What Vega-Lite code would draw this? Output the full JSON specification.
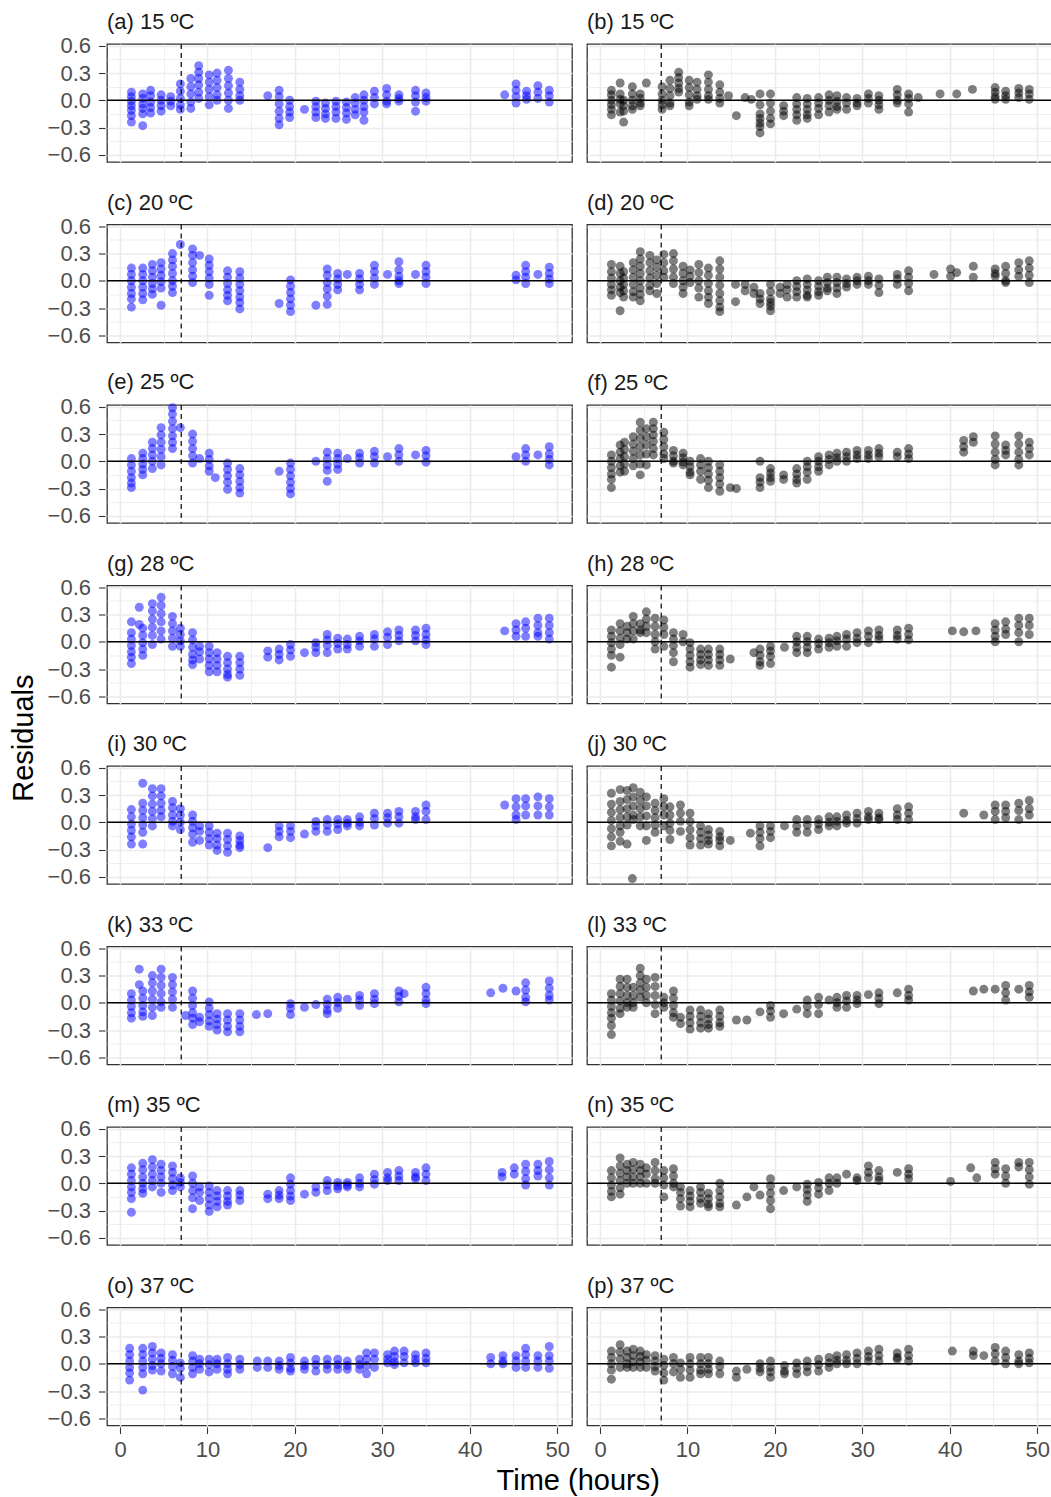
{
"$schema":"https://vega.github.io/schema/vega-lite/v6.json",
"background":"white",
"padding":{"left":10,"top":10,"right":0,"bottom":0},
"config":{"font":"Liberation Sans","view":{"stroke":"#333333","strokeWidth":1.3},"concat":{"spacing":0}},
"title":{"text":"Residuals","orient":"left","anchor":"middle","fontSize":29,"fontWeight":"normal","color":"black","offset":8,"dx":15},
"vconcat":[{
"title":{"text":"Time (hours)","orient":"bottom","anchor":"middle","fontSize":29,"fontWeight":"normal","color":"black","offset":6,"dx":28},
"data":{"values":[
{"p":"a","t":1.3,"r":0.09},{"p":"a","t":1.3,"r":0.04},{"p":"a","t":1.3,"r":-0.01},{"p":"a","t":1.3,"r":-0.06},{"p":"a","t":1.3,"r":-0.11},{"p":"a","t":1.3,"r":-0.17},{"p":"a","t":1.3,"r":-0.24},
{"p":"a","t":2.6,"r":0.07},{"p":"a","t":2.6,"r":0.02},{"p":"a","t":2.6,"r":-0.04},{"p":"a","t":2.6,"r":-0.09},{"p":"a","t":2.6,"r":-0.15},{"p":"a","t":2.6,"r":-0.28},
{"p":"a","t":3.5,"r":0.11},{"p":"a","t":3.5,"r":0.05},{"p":"a","t":3.5,"r":-0.02},{"p":"a","t":3.5,"r":-0.08},{"p":"a","t":3.5,"r":-0.14},
{"p":"a","t":4.7,"r":0.06},{"p":"a","t":4.7,"r":0.0},{"p":"a","t":4.7,"r":-0.06},{"p":"a","t":4.7,"r":-0.12},
{"p":"a","t":5.8,"r":0.04},{"p":"a","t":5.8,"r":-0.01},{"p":"a","t":5.8,"r":-0.06},
{"p":"a","t":6.9,"r":0.18},{"p":"a","t":6.9,"r":0.1},{"p":"a","t":6.9,"r":0.02},{"p":"a","t":6.9,"r":-0.05},{"p":"a","t":6.9,"r":-0.1},
{"p":"a","t":8.1,"r":0.24},{"p":"a","t":8.1,"r":0.15},{"p":"a","t":8.1,"r":0.07},{"p":"a","t":8.1,"r":-0.02},{"p":"a","t":8.1,"r":-0.09},
{"p":"a","t":9.0,"r":0.38},{"p":"a","t":9.0,"r":0.31},{"p":"a","t":9.0,"r":0.24},{"p":"a","t":9.0,"r":0.17},{"p":"a","t":9.0,"r":0.09},{"p":"a","t":9.0,"r":0.02},
{"p":"a","t":10.2,"r":0.28},{"p":"a","t":10.2,"r":0.2},{"p":"a","t":10.2,"r":0.12},{"p":"a","t":10.2,"r":0.04},{"p":"a","t":10.2,"r":-0.05},
{"p":"a","t":11.1,"r":0.3},{"p":"a","t":11.1,"r":0.22},{"p":"a","t":11.1,"r":0.14},{"p":"a","t":11.1,"r":0.06},{"p":"a","t":11.1,"r":0.0},
{"p":"a","t":12.4,"r":0.33},{"p":"a","t":12.4,"r":0.24},{"p":"a","t":12.4,"r":0.16},{"p":"a","t":12.4,"r":0.08},{"p":"a","t":12.4,"r":0.0},{"p":"a","t":12.4,"r":-0.09},
{"p":"a","t":13.7,"r":0.2},{"p":"a","t":13.7,"r":0.12},{"p":"a","t":13.7,"r":0.05},{"p":"a","t":13.7,"r":0.0},
{"p":"a","t":16.9,"r":0.05},
{"p":"a","t":18.2,"r":0.11},{"p":"a","t":18.2,"r":0.04},{"p":"a","t":18.2,"r":-0.04},{"p":"a","t":18.2,"r":-0.12},{"p":"a","t":18.2,"r":-0.2},{"p":"a","t":18.2,"r":-0.27},
{"p":"a","t":19.4,"r":0.0},{"p":"a","t":19.4,"r":-0.07},{"p":"a","t":19.4,"r":-0.13},{"p":"a","t":19.4,"r":-0.19},
{"p":"a","t":21.1,"r":-0.1},
{"p":"a","t":22.4,"r":-0.01},{"p":"a","t":22.4,"r":-0.07},{"p":"a","t":22.4,"r":-0.13},{"p":"a","t":22.4,"r":-0.19},
{"p":"a","t":23.5,"r":-0.03},{"p":"a","t":23.5,"r":-0.09},{"p":"a","t":23.5,"r":-0.15},{"p":"a","t":23.5,"r":-0.2},
{"p":"a","t":24.7,"r":-0.01},{"p":"a","t":24.7,"r":-0.07},{"p":"a","t":24.7,"r":-0.13},{"p":"a","t":24.7,"r":-0.2},
{"p":"a","t":25.9,"r":-0.02},{"p":"a","t":25.9,"r":-0.08},{"p":"a","t":25.9,"r":-0.14},{"p":"a","t":25.9,"r":-0.21},
{"p":"a","t":26.9,"r":0.03},{"p":"a","t":26.9,"r":-0.03},{"p":"a","t":26.9,"r":-0.1},{"p":"a","t":26.9,"r":-0.16},
{"p":"a","t":27.9,"r":0.06},{"p":"a","t":27.9,"r":0.0},{"p":"a","t":27.9,"r":-0.07},{"p":"a","t":27.9,"r":-0.13},{"p":"a","t":27.9,"r":-0.22},
{"p":"a","t":29.1,"r":0.1},{"p":"a","t":29.1,"r":0.03},{"p":"a","t":29.1,"r":-0.04},
{"p":"a","t":30.5,"r":0.13},{"p":"a","t":30.5,"r":0.06},{"p":"a","t":30.5,"r":-0.01},{"p":"a","t":30.5,"r":-0.04},
{"p":"a","t":31.9,"r":0.06},{"p":"a","t":31.9,"r":0.02},{"p":"a","t":31.9,"r":-0.01},
{"p":"a","t":33.8,"r":0.11},{"p":"a","t":33.8,"r":0.05},{"p":"a","t":33.8,"r":-0.02},{"p":"a","t":33.8,"r":-0.12},
{"p":"a","t":35.0,"r":0.08},{"p":"a","t":35.0,"r":0.03},{"p":"a","t":35.0,"r":-0.01},
{"p":"a","t":44.0,"r":0.06},
{"p":"a","t":45.3,"r":0.18},{"p":"a","t":45.3,"r":0.11},{"p":"a","t":45.3,"r":0.04},{"p":"a","t":45.3,"r":-0.03},
{"p":"a","t":46.5,"r":0.1},{"p":"a","t":46.5,"r":0.05},{"p":"a","t":46.5,"r":0.01},
{"p":"a","t":47.8,"r":0.16},{"p":"a","t":47.8,"r":0.09},{"p":"a","t":47.8,"r":0.02},
{"p":"a","t":49.1,"r":0.11},{"p":"a","t":49.1,"r":0.05},{"p":"a","t":49.1,"r":-0.02},
{"p":"b","t":1.3,"r":0.11},{"p":"b","t":1.3,"r":0.06},{"p":"b","t":1.3,"r":0.0},{"p":"b","t":1.3,"r":-0.05},{"p":"b","t":1.3,"r":-0.1},{"p":"b","t":1.3,"r":-0.16},
{"p":"b","t":2.3,"r":0.19},{"p":"b","t":2.3,"r":0.07},{"p":"b","t":2.3,"r":0.01},{"p":"b","t":2.3,"r":-0.04},{"p":"b","t":2.3,"r":-0.13},
{"p":"b","t":2.7,"r":0.0},{"p":"b","t":2.7,"r":-0.06},{"p":"b","t":2.7,"r":-0.12},{"p":"b","t":2.7,"r":-0.24},
{"p":"b","t":3.7,"r":0.15},{"p":"b","t":3.7,"r":0.07},{"p":"b","t":3.7,"r":0.0},{"p":"b","t":3.7,"r":-0.06},{"p":"b","t":3.7,"r":-0.1},
{"p":"b","t":4.6,"r":0.07},{"p":"b","t":4.6,"r":0.02},{"p":"b","t":4.6,"r":-0.03},{"p":"b","t":4.6,"r":-0.06},
{"p":"b","t":5.3,"r":0.19},
{"p":"b","t":7.1,"r":0.15},{"p":"b","t":7.1,"r":0.07},{"p":"b","t":7.1,"r":0.0},{"p":"b","t":7.1,"r":-0.05},{"p":"b","t":7.1,"r":-0.1},
{"p":"b","t":8.0,"r":0.22},{"p":"b","t":8.0,"r":0.13},{"p":"b","t":8.0,"r":0.05},{"p":"b","t":8.0,"r":-0.03},{"p":"b","t":8.0,"r":-0.06},
{"p":"b","t":9.0,"r":0.31},{"p":"b","t":9.0,"r":0.25},{"p":"b","t":9.0,"r":0.19},{"p":"b","t":9.0,"r":0.13},{"p":"b","t":9.0,"r":0.09},
{"p":"b","t":10.2,"r":0.22},{"p":"b","t":10.2,"r":0.14},{"p":"b","t":10.2,"r":0.06},{"p":"b","t":10.2,"r":-0.02},{"p":"b","t":10.2,"r":-0.06},
{"p":"b","t":11.1,"r":0.2},{"p":"b","t":11.1,"r":0.12},{"p":"b","t":11.1,"r":0.05},{"p":"b","t":11.1,"r":0.01},
{"p":"b","t":12.4,"r":0.28},{"p":"b","t":12.4,"r":0.2},{"p":"b","t":12.4,"r":0.12},{"p":"b","t":12.4,"r":0.05},{"p":"b","t":12.4,"r":0.01},
{"p":"b","t":13.7,"r":0.17},{"p":"b","t":13.7,"r":0.09},{"p":"b","t":13.7,"r":0.02},{"p":"b","t":13.7,"r":-0.03},
{"p":"b","t":14.7,"r":0.05},{"p":"b","t":15.6,"r":-0.17},{"p":"b","t":16.6,"r":0.03},{"p":"b","t":17.3,"r":0.01},
{"p":"b","t":18.3,"r":0.07},{"p":"b","t":18.3,"r":-0.05},{"p":"b","t":18.3,"r":-0.15},{"p":"b","t":18.3,"r":-0.2},{"p":"b","t":18.3,"r":-0.25},{"p":"b","t":18.3,"r":-0.29},{"p":"b","t":18.3,"r":-0.36},
{"p":"b","t":19.5,"r":0.07},{"p":"b","t":19.5,"r":-0.03},{"p":"b","t":19.5,"r":-0.12},{"p":"b","t":19.5,"r":-0.2},{"p":"b","t":19.5,"r":-0.26},
{"p":"b","t":21.0,"r":-0.06},{"p":"b","t":21.0,"r":-0.12},{"p":"b","t":21.0,"r":-0.17},
{"p":"b","t":22.5,"r":0.03},{"p":"b","t":22.5,"r":-0.04},{"p":"b","t":22.5,"r":-0.1},{"p":"b","t":22.5,"r":-0.16},{"p":"b","t":22.5,"r":-0.22},
{"p":"b","t":23.7,"r":0.02},{"p":"b","t":23.7,"r":-0.04},{"p":"b","t":23.7,"r":-0.1},{"p":"b","t":23.7,"r":-0.16},{"p":"b","t":23.7,"r":-0.2},
{"p":"b","t":25.0,"r":0.03},{"p":"b","t":25.0,"r":-0.03},{"p":"b","t":25.0,"r":-0.09},{"p":"b","t":25.0,"r":-0.16},
{"p":"b","t":26.2,"r":0.06},{"p":"b","t":26.2,"r":0.0},{"p":"b","t":26.2,"r":-0.06},{"p":"b","t":26.2,"r":-0.13},
{"p":"b","t":27.1,"r":0.05},{"p":"b","t":27.1,"r":-0.01},{"p":"b","t":27.1,"r":-0.07},{"p":"b","t":27.1,"r":-0.1},
{"p":"b","t":28.2,"r":0.03},{"p":"b","t":28.2,"r":-0.03},{"p":"b","t":28.2,"r":-0.1},
{"p":"b","t":29.4,"r":0.02},{"p":"b","t":29.4,"r":-0.03},{"p":"b","t":29.4,"r":-0.06},
{"p":"b","t":30.7,"r":0.07},{"p":"b","t":30.7,"r":0.02},{"p":"b","t":30.7,"r":-0.03},
{"p":"b","t":31.9,"r":0.05},{"p":"b","t":31.9,"r":0.0},{"p":"b","t":31.9,"r":-0.05},{"p":"b","t":31.9,"r":-0.1},
{"p":"b","t":34.0,"r":0.12},{"p":"b","t":34.0,"r":0.06},{"p":"b","t":34.0,"r":0.0},{"p":"b","t":34.0,"r":-0.03},
{"p":"b","t":35.3,"r":0.07},{"p":"b","t":35.3,"r":0.02},{"p":"b","t":35.3,"r":-0.04},{"p":"b","t":35.3,"r":-0.13},
{"p":"b","t":36.4,"r":0.03},{"p":"b","t":38.9,"r":0.07},{"p":"b","t":40.8,"r":0.07},{"p":"b","t":42.6,"r":0.12},
{"p":"b","t":45.2,"r":0.14},{"p":"b","t":45.2,"r":0.09},{"p":"b","t":45.2,"r":0.04},{"p":"b","t":45.2,"r":0.01},
{"p":"b","t":46.4,"r":0.1},{"p":"b","t":46.4,"r":0.05},{"p":"b","t":46.4,"r":0.01},
{"p":"b","t":47.9,"r":0.13},{"p":"b","t":47.9,"r":0.08},{"p":"b","t":47.9,"r":0.03},
{"p":"b","t":49.1,"r":0.12},{"p":"b","t":49.1,"r":0.07},{"p":"b","t":49.1,"r":0.01},
{"p":"c","t":1.3,"r":0.14},{"p":"c","t":1.3,"r":0.07},{"p":"c","t":1.3,"r":0.0},{"p":"c","t":1.3,"r":-0.07},{"p":"c","t":1.3,"r":-0.14},{"p":"c","t":1.3,"r":-0.2},{"p":"c","t":1.3,"r":-0.29},
{"p":"c","t":2.6,"r":0.14},{"p":"c","t":2.6,"r":0.07},{"p":"c","t":2.6,"r":0.0},{"p":"c","t":2.6,"r":-0.07},{"p":"c","t":2.6,"r":-0.14},{"p":"c","t":2.6,"r":-0.21},
{"p":"c","t":3.7,"r":0.18},{"p":"c","t":3.7,"r":0.11},{"p":"c","t":3.7,"r":0.04},{"p":"c","t":3.7,"r":-0.03},{"p":"c","t":3.7,"r":-0.09},{"p":"c","t":3.7,"r":-0.15},
{"p":"c","t":4.7,"r":0.2},{"p":"c","t":4.7,"r":0.13},{"p":"c","t":4.7,"r":0.06},{"p":"c","t":4.7,"r":-0.01},{"p":"c","t":4.7,"r":-0.08},{"p":"c","t":4.7,"r":-0.27},
{"p":"c","t":6.0,"r":0.3},{"p":"c","t":6.0,"r":0.23},{"p":"c","t":6.0,"r":0.16},{"p":"c","t":6.0,"r":0.08},{"p":"c","t":6.0,"r":0.0},{"p":"c","t":6.0,"r":-0.06},{"p":"c","t":6.0,"r":-0.13},
{"p":"c","t":6.9,"r":0.4},
{"p":"c","t":8.3,"r":0.35},{"p":"c","t":8.3,"r":0.28},{"p":"c","t":8.3,"r":0.2},{"p":"c","t":8.3,"r":0.12},{"p":"c","t":8.3,"r":0.05},{"p":"c","t":8.3,"r":-0.02},
{"p":"c","t":9.1,"r":0.28},
{"p":"c","t":10.2,"r":0.24},{"p":"c","t":10.2,"r":0.17},{"p":"c","t":10.2,"r":0.1},{"p":"c","t":10.2,"r":0.03},{"p":"c","t":10.2,"r":-0.04},{"p":"c","t":10.2,"r":-0.16},
{"p":"c","t":12.3,"r":0.11},{"p":"c","t":12.3,"r":0.04},{"p":"c","t":12.3,"r":-0.03},{"p":"c","t":12.3,"r":-0.1},{"p":"c","t":12.3,"r":-0.16},{"p":"c","t":12.3,"r":-0.22},
{"p":"c","t":13.7,"r":0.1},{"p":"c","t":13.7,"r":0.03},{"p":"c","t":13.7,"r":-0.04},{"p":"c","t":13.7,"r":-0.11},{"p":"c","t":13.7,"r":-0.18},{"p":"c","t":13.7,"r":-0.24},{"p":"c","t":13.7,"r":-0.31},
{"p":"c","t":18.2,"r":-0.25},
{"p":"c","t":19.5,"r":0.01},{"p":"c","t":19.5,"r":-0.06},{"p":"c","t":19.5,"r":-0.13},{"p":"c","t":19.5,"r":-0.2},{"p":"c","t":19.5,"r":-0.27},{"p":"c","t":19.5,"r":-0.34},
{"p":"c","t":22.4,"r":-0.27},
{"p":"c","t":23.7,"r":0.13},{"p":"c","t":23.7,"r":0.06},{"p":"c","t":23.7,"r":-0.02},{"p":"c","t":23.7,"r":-0.09},{"p":"c","t":23.7,"r":-0.17},{"p":"c","t":23.7,"r":-0.26},
{"p":"c","t":24.9,"r":0.08},{"p":"c","t":24.9,"r":0.02},{"p":"c","t":24.9,"r":-0.04},{"p":"c","t":24.9,"r":-0.1},
{"p":"c","t":26.0,"r":0.07},
{"p":"c","t":27.4,"r":0.08},{"p":"c","t":27.4,"r":0.02},{"p":"c","t":27.4,"r":-0.04},{"p":"c","t":27.4,"r":-0.1},
{"p":"c","t":29.1,"r":0.17},{"p":"c","t":29.1,"r":0.1},{"p":"c","t":29.1,"r":0.03},{"p":"c","t":29.1,"r":-0.04},
{"p":"c","t":30.6,"r":0.07},
{"p":"c","t":31.9,"r":0.21},{"p":"c","t":31.9,"r":0.12},{"p":"c","t":31.9,"r":0.05},{"p":"c","t":31.9,"r":0.0},{"p":"c","t":31.9,"r":-0.03},
{"p":"c","t":33.8,"r":0.07},
{"p":"c","t":35.0,"r":0.17},{"p":"c","t":35.0,"r":0.1},{"p":"c","t":35.0,"r":0.04},{"p":"c","t":35.0,"r":-0.03},
{"p":"c","t":45.3,"r":0.06},{"p":"c","t":45.3,"r":0.01},
{"p":"c","t":46.4,"r":0.17},{"p":"c","t":46.4,"r":0.1},{"p":"c","t":46.4,"r":0.04},{"p":"c","t":46.4,"r":-0.03},
{"p":"c","t":47.8,"r":0.07},
{"p":"c","t":49.1,"r":0.15},{"p":"c","t":49.1,"r":0.08},{"p":"c","t":49.1,"r":0.02},{"p":"c","t":49.1,"r":-0.03},
{"p":"d","t":1.3,"r":0.18},{"p":"d","t":1.3,"r":0.1},{"p":"d","t":1.3,"r":0.03},{"p":"d","t":1.3,"r":-0.04},{"p":"d","t":1.3,"r":-0.1},{"p":"d","t":1.3,"r":-0.16},
{"p":"d","t":2.3,"r":0.16},{"p":"d","t":2.3,"r":0.08},{"p":"d","t":2.3,"r":0.0},{"p":"d","t":2.3,"r":-0.07},{"p":"d","t":2.3,"r":-0.13},{"p":"d","t":2.3,"r":-0.33},
{"p":"d","t":2.7,"r":0.1},{"p":"d","t":2.7,"r":0.03},{"p":"d","t":2.7,"r":-0.04},{"p":"d","t":2.7,"r":-0.11},{"p":"d","t":2.7,"r":-0.18},
{"p":"d","t":3.8,"r":0.2},{"p":"d","t":3.8,"r":0.12},{"p":"d","t":3.8,"r":0.04},{"p":"d","t":3.8,"r":-0.04},{"p":"d","t":3.8,"r":-0.12},{"p":"d","t":3.8,"r":-0.18},
{"p":"d","t":4.6,"r":0.32},{"p":"d","t":4.6,"r":0.24},{"p":"d","t":4.6,"r":0.16},{"p":"d","t":4.6,"r":0.08},{"p":"d","t":4.6,"r":0.0},{"p":"d","t":4.6,"r":-0.08},{"p":"d","t":4.6,"r":-0.15},{"p":"d","t":4.6,"r":-0.22},
{"p":"d","t":5.7,"r":0.28},{"p":"d","t":5.7,"r":0.2},{"p":"d","t":5.7,"r":0.11},{"p":"d","t":5.7,"r":0.03},{"p":"d","t":5.7,"r":-0.05},{"p":"d","t":5.7,"r":-0.11},
{"p":"d","t":6.5,"r":0.23},{"p":"d","t":6.5,"r":0.15},{"p":"d","t":6.5,"r":0.06},{"p":"d","t":6.5,"r":-0.03},{"p":"d","t":6.5,"r":-0.14},
{"p":"d","t":7.3,"r":0.29},{"p":"d","t":7.3,"r":0.2},{"p":"d","t":7.3,"r":0.11},{"p":"d","t":7.3,"r":0.04},
{"p":"d","t":8.4,"r":0.3},{"p":"d","t":8.4,"r":0.22},{"p":"d","t":8.4,"r":0.13},{"p":"d","t":8.4,"r":0.04},{"p":"d","t":8.4,"r":-0.03},
{"p":"d","t":9.5,"r":0.16},{"p":"d","t":9.5,"r":0.08},{"p":"d","t":9.5,"r":0.0},{"p":"d","t":9.5,"r":-0.07},{"p":"d","t":9.5,"r":-0.14},
{"p":"d","t":10.3,"r":0.12},{"p":"d","t":10.3,"r":0.05},{"p":"d","t":10.3,"r":-0.02},
{"p":"d","t":11.3,"r":0.18},{"p":"d","t":11.3,"r":0.09},{"p":"d","t":11.3,"r":0.0},{"p":"d","t":11.3,"r":-0.08},{"p":"d","t":11.3,"r":-0.18},
{"p":"d","t":12.4,"r":0.14},{"p":"d","t":12.4,"r":0.06},{"p":"d","t":12.4,"r":-0.03},{"p":"d","t":12.4,"r":-0.11},{"p":"d","t":12.4,"r":-0.18},{"p":"d","t":12.4,"r":-0.25},
{"p":"d","t":13.7,"r":0.22},{"p":"d","t":13.7,"r":0.13},{"p":"d","t":13.7,"r":0.04},{"p":"d","t":13.7,"r":-0.05},{"p":"d","t":13.7,"r":-0.14},{"p":"d","t":13.7,"r":-0.22},{"p":"d","t":13.7,"r":-0.29},{"p":"d","t":13.7,"r":-0.34},
{"p":"d","t":15.5,"r":-0.04},{"p":"d","t":15.5,"r":-0.23},
{"p":"d","t":16.6,"r":-0.04},{"p":"d","t":16.6,"r":-0.11},
{"p":"d","t":17.6,"r":-0.07},{"p":"d","t":17.6,"r":-0.14},
{"p":"d","t":18.3,"r":-0.14},{"p":"d","t":18.3,"r":-0.2},{"p":"d","t":18.3,"r":-0.25},
{"p":"d","t":19.5,"r":-0.04},{"p":"d","t":19.5,"r":-0.12},{"p":"d","t":19.5,"r":-0.2},{"p":"d","t":19.5,"r":-0.24},{"p":"d","t":19.5,"r":-0.28},{"p":"d","t":19.5,"r":-0.33},
{"p":"d","t":20.6,"r":-0.07},{"p":"d","t":20.6,"r":-0.14},
{"p":"d","t":21.4,"r":-0.04},{"p":"d","t":21.4,"r":-0.1},{"p":"d","t":21.4,"r":-0.18},
{"p":"d","t":22.5,"r":0.0},{"p":"d","t":22.5,"r":-0.06},{"p":"d","t":22.5,"r":-0.12},{"p":"d","t":22.5,"r":-0.18},
{"p":"d","t":23.7,"r":0.02},{"p":"d","t":23.7,"r":-0.04},{"p":"d","t":23.7,"r":-0.1},{"p":"d","t":23.7,"r":-0.16},{"p":"d","t":23.7,"r":-0.18},
{"p":"d","t":25.0,"r":0.0},{"p":"d","t":25.0,"r":-0.06},{"p":"d","t":25.0,"r":-0.12},{"p":"d","t":25.0,"r":-0.16},
{"p":"d","t":26.0,"r":0.04},{"p":"d","t":26.0,"r":-0.02},{"p":"d","t":26.0,"r":-0.08},{"p":"d","t":26.0,"r":-0.11},
{"p":"d","t":27.1,"r":0.04},{"p":"d","t":27.1,"r":-0.02},{"p":"d","t":27.1,"r":-0.08},{"p":"d","t":27.1,"r":-0.14},
{"p":"d","t":28.2,"r":0.02},{"p":"d","t":28.2,"r":-0.03},{"p":"d","t":28.2,"r":-0.07},
{"p":"d","t":29.4,"r":0.04},{"p":"d","t":29.4,"r":0.0},{"p":"d","t":29.4,"r":-0.04},
{"p":"d","t":30.7,"r":0.05},{"p":"d","t":30.7,"r":0.0},{"p":"d","t":30.7,"r":-0.04},
{"p":"d","t":31.9,"r":0.02},{"p":"d","t":31.9,"r":-0.05},{"p":"d","t":31.9,"r":-0.13},
{"p":"d","t":34.0,"r":0.07},{"p":"d","t":34.0,"r":0.02},{"p":"d","t":34.0,"r":-0.04},
{"p":"d","t":35.3,"r":0.11},{"p":"d","t":35.3,"r":0.04},{"p":"d","t":35.3,"r":-0.03},{"p":"d","t":35.3,"r":-0.11},
{"p":"d","t":38.2,"r":0.07},
{"p":"d","t":40.1,"r":0.13},{"p":"d","t":40.1,"r":0.05},
{"p":"d","t":40.8,"r":0.09},
{"p":"d","t":42.7,"r":0.16},{"p":"d","t":42.7,"r":0.04},
{"p":"d","t":45.2,"r":0.13},{"p":"d","t":45.2,"r":0.08},{"p":"d","t":45.2,"r":0.05},
{"p":"d","t":46.4,"r":0.16},{"p":"d","t":46.4,"r":0.08},{"p":"d","t":46.4,"r":0.0},{"p":"d","t":46.4,"r":-0.02},
{"p":"d","t":47.9,"r":0.2},{"p":"d","t":47.9,"r":0.12},{"p":"d","t":47.9,"r":0.05},
{"p":"d","t":49.1,"r":0.22},{"p":"d","t":49.1,"r":0.14},{"p":"d","t":49.1,"r":0.06},{"p":"d","t":49.1,"r":-0.02},
{"p":"e","t":1.3,"r":0.03},{"p":"e","t":1.3,"r":-0.04},{"p":"e","t":1.3,"r":-0.11},{"p":"e","t":1.3,"r":-0.18},{"p":"e","t":1.3,"r":-0.24},{"p":"e","t":1.3,"r":-0.29},
{"p":"e","t":2.6,"r":0.09},{"p":"e","t":2.6,"r":0.03},{"p":"e","t":2.6,"r":-0.03},{"p":"e","t":2.6,"r":-0.09},{"p":"e","t":2.6,"r":-0.15},
{"p":"e","t":3.7,"r":0.21},{"p":"e","t":3.7,"r":0.14},{"p":"e","t":3.7,"r":0.07},{"p":"e","t":3.7,"r":0.0},{"p":"e","t":3.7,"r":-0.08},
{"p":"e","t":4.7,"r":0.37},{"p":"e","t":4.7,"r":0.29},{"p":"e","t":4.7,"r":0.21},{"p":"e","t":4.7,"r":0.13},{"p":"e","t":4.7,"r":0.05},{"p":"e","t":4.7,"r":-0.04},
{"p":"e","t":6.0,"r":0.59},{"p":"e","t":6.0,"r":0.52},{"p":"e","t":6.0,"r":0.44},{"p":"e","t":6.0,"r":0.36},{"p":"e","t":6.0,"r":0.28},{"p":"e","t":6.0,"r":0.21},{"p":"e","t":6.0,"r":0.14},
{"p":"e","t":6.9,"r":0.37},
{"p":"e","t":8.3,"r":0.3},{"p":"e","t":8.3,"r":0.22},{"p":"e","t":8.3,"r":0.14},{"p":"e","t":8.3,"r":0.06},{"p":"e","t":8.3,"r":-0.02},
{"p":"e","t":9.1,"r":0.03},
{"p":"e","t":10.2,"r":0.09},{"p":"e","t":10.2,"r":0.02},{"p":"e","t":10.2,"r":-0.05},{"p":"e","t":10.2,"r":-0.11},
{"p":"e","t":10.9,"r":-0.18},
{"p":"e","t":12.3,"r":-0.02},{"p":"e","t":12.3,"r":-0.09},{"p":"e","t":12.3,"r":-0.16},{"p":"e","t":12.3,"r":-0.23},{"p":"e","t":12.3,"r":-0.31},
{"p":"e","t":13.7,"r":-0.08},{"p":"e","t":13.7,"r":-0.15},{"p":"e","t":13.7,"r":-0.22},{"p":"e","t":13.7,"r":-0.29},{"p":"e","t":13.7,"r":-0.35},
{"p":"e","t":18.2,"r":-0.11},
{"p":"e","t":19.5,"r":-0.02},{"p":"e","t":19.5,"r":-0.09},{"p":"e","t":19.5,"r":-0.16},{"p":"e","t":19.5,"r":-0.23},{"p":"e","t":19.5,"r":-0.3},{"p":"e","t":19.5,"r":-0.36},
{"p":"e","t":22.4,"r":0.0},
{"p":"e","t":23.7,"r":0.1},{"p":"e","t":23.7,"r":0.03},{"p":"e","t":23.7,"r":-0.04},{"p":"e","t":23.7,"r":-0.1},{"p":"e","t":23.7,"r":-0.22},
{"p":"e","t":24.9,"r":0.09},{"p":"e","t":24.9,"r":0.03},{"p":"e","t":24.9,"r":-0.03},{"p":"e","t":24.9,"r":-0.09},
{"p":"e","t":26.0,"r":0.03},
{"p":"e","t":27.4,"r":0.09},{"p":"e","t":27.4,"r":0.04},{"p":"e","t":27.4,"r":-0.02},
{"p":"e","t":29.1,"r":0.11},{"p":"e","t":29.1,"r":0.05},{"p":"e","t":29.1,"r":-0.02},
{"p":"e","t":30.6,"r":0.05},
{"p":"e","t":31.9,"r":0.14},{"p":"e","t":31.9,"r":0.07},{"p":"e","t":31.9,"r":0.0},
{"p":"e","t":33.8,"r":0.07},
{"p":"e","t":35.0,"r":0.12},{"p":"e","t":35.0,"r":0.06},{"p":"e","t":35.0,"r":-0.01},
{"p":"e","t":45.3,"r":0.05},
{"p":"e","t":46.4,"r":0.14},{"p":"e","t":46.4,"r":0.07},{"p":"e","t":46.4,"r":0.0},
{"p":"e","t":47.8,"r":0.07},
{"p":"e","t":49.1,"r":0.16},{"p":"e","t":49.1,"r":0.08},{"p":"e","t":49.1,"r":0.02},{"p":"e","t":49.1,"r":-0.04},
{"p":"f","t":1.3,"r":0.07},{"p":"f","t":1.3,"r":0.0},{"p":"f","t":1.3,"r":-0.07},{"p":"f","t":1.3,"r":-0.14},{"p":"f","t":1.3,"r":-0.2},{"p":"f","t":1.3,"r":-0.29},
{"p":"f","t":2.3,"r":0.18},{"p":"f","t":2.3,"r":0.1},{"p":"f","t":2.3,"r":0.03},{"p":"f","t":2.3,"r":-0.05},{"p":"f","t":2.3,"r":-0.12},
{"p":"f","t":2.8,"r":0.21},{"p":"f","t":2.8,"r":0.13},{"p":"f","t":2.8,"r":0.05},{"p":"f","t":2.8,"r":-0.03},{"p":"f","t":2.8,"r":-0.11},
{"p":"f","t":3.8,"r":0.27},{"p":"f","t":3.8,"r":0.19},{"p":"f","t":3.8,"r":0.11},{"p":"f","t":3.8,"r":0.03},{"p":"f","t":3.8,"r":-0.05},
{"p":"f","t":4.6,"r":0.43},{"p":"f","t":4.6,"r":0.34},{"p":"f","t":4.6,"r":0.25},{"p":"f","t":4.6,"r":0.16},{"p":"f","t":4.6,"r":0.07},{"p":"f","t":4.6,"r":-0.03},{"p":"f","t":4.6,"r":-0.15},
{"p":"f","t":5.3,"r":0.36},{"p":"f","t":5.3,"r":0.27},{"p":"f","t":5.3,"r":0.18},{"p":"f","t":5.3,"r":0.08},{"p":"f","t":5.3,"r":-0.04},
{"p":"f","t":6.1,"r":0.43},{"p":"f","t":6.1,"r":0.36},{"p":"f","t":6.1,"r":0.29},{"p":"f","t":6.1,"r":0.22},{"p":"f","t":6.1,"r":0.14},{"p":"f","t":6.1,"r":0.07},
{"p":"f","t":7.3,"r":0.32},{"p":"f","t":7.3,"r":0.24},{"p":"f","t":7.3,"r":0.16},{"p":"f","t":7.3,"r":0.08},{"p":"f","t":7.3,"r":0.03},
{"p":"f","t":8.4,"r":0.12},{"p":"f","t":8.4,"r":0.06},{"p":"f","t":8.4,"r":0.0},{"p":"f","t":8.4,"r":-0.02},
{"p":"f","t":9.5,"r":0.09},{"p":"f","t":9.5,"r":0.04},{"p":"f","t":9.5,"r":-0.01},{"p":"f","t":9.5,"r":-0.04},
{"p":"f","t":10.3,"r":0.0},{"p":"f","t":10.3,"r":-0.06},{"p":"f","t":10.3,"r":-0.12},{"p":"f","t":10.3,"r":-0.15},
{"p":"f","t":11.5,"r":0.03},{"p":"f","t":11.5,"r":-0.04},{"p":"f","t":11.5,"r":-0.11},{"p":"f","t":11.5,"r":-0.2},
{"p":"f","t":12.4,"r":0.0},{"p":"f","t":12.4,"r":-0.07},{"p":"f","t":12.4,"r":-0.14},{"p":"f","t":12.4,"r":-0.21},{"p":"f","t":12.4,"r":-0.29},
{"p":"f","t":13.7,"r":-0.04},{"p":"f","t":13.7,"r":-0.11},{"p":"f","t":13.7,"r":-0.18},{"p":"f","t":13.7,"r":-0.25},{"p":"f","t":13.7,"r":-0.33},
{"p":"f","t":14.9,"r":-0.29},{"p":"f","t":15.6,"r":-0.3},
{"p":"f","t":18.3,"r":0.0},{"p":"f","t":18.3,"r":-0.18},{"p":"f","t":18.3,"r":-0.23},{"p":"f","t":18.3,"r":-0.29},
{"p":"f","t":19.5,"r":-0.08},{"p":"f","t":19.5,"r":-0.13},{"p":"f","t":19.5,"r":-0.18},{"p":"f","t":19.5,"r":-0.22},
{"p":"f","t":21.0,"r":-0.15},{"p":"f","t":21.0,"r":-0.2},
{"p":"f","t":22.5,"r":-0.08},{"p":"f","t":22.5,"r":-0.14},{"p":"f","t":22.5,"r":-0.2},{"p":"f","t":22.5,"r":-0.24},
{"p":"f","t":23.7,"r":0.0},{"p":"f","t":23.7,"r":-0.06},{"p":"f","t":23.7,"r":-0.12},{"p":"f","t":23.7,"r":-0.2},
{"p":"f","t":25.0,"r":0.05},{"p":"f","t":25.0,"r":0.0},{"p":"f","t":25.0,"r":-0.06},{"p":"f","t":25.0,"r":-0.11},
{"p":"f","t":26.2,"r":0.07},{"p":"f","t":26.2,"r":0.02},{"p":"f","t":26.2,"r":-0.04},
{"p":"f","t":27.1,"r":0.09},{"p":"f","t":27.1,"r":0.04},{"p":"f","t":27.1,"r":0.0},
{"p":"f","t":28.2,"r":0.1},{"p":"f","t":28.2,"r":0.05},{"p":"f","t":28.2,"r":0.0},
{"p":"f","t":29.4,"r":0.12},{"p":"f","t":29.4,"r":0.07},{"p":"f","t":29.4,"r":0.03},
{"p":"f","t":30.7,"r":0.12},{"p":"f","t":30.7,"r":0.07},{"p":"f","t":30.7,"r":0.03},
{"p":"f","t":31.9,"r":0.14},{"p":"f","t":31.9,"r":0.09},{"p":"f","t":31.9,"r":0.05},
{"p":"f","t":34.0,"r":0.1},{"p":"f","t":34.0,"r":0.05},
{"p":"f","t":35.3,"r":0.14},{"p":"f","t":35.3,"r":0.08},{"p":"f","t":35.3,"r":0.03},
{"p":"f","t":41.6,"r":0.23},{"p":"f","t":41.6,"r":0.16},{"p":"f","t":41.6,"r":0.1},
{"p":"f","t":42.7,"r":0.27},{"p":"f","t":42.7,"r":0.21},
{"p":"f","t":45.2,"r":0.28},{"p":"f","t":45.2,"r":0.19},{"p":"f","t":45.2,"r":0.1},{"p":"f","t":45.2,"r":0.02},{"p":"f","t":45.2,"r":-0.04},
{"p":"f","t":46.4,"r":0.18},{"p":"f","t":46.4,"r":0.12},{"p":"f","t":46.4,"r":0.07},
{"p":"f","t":47.9,"r":0.28},{"p":"f","t":47.9,"r":0.19},{"p":"f","t":47.9,"r":0.1},{"p":"f","t":47.9,"r":0.02},{"p":"f","t":47.9,"r":-0.04},
{"p":"f","t":49.1,"r":0.21},{"p":"f","t":49.1,"r":0.14},{"p":"f","t":49.1,"r":0.07},
{"p":"g","t":1.3,"r":0.22},{"p":"g","t":1.3,"r":0.1},{"p":"g","t":1.3,"r":0.03},{"p":"g","t":1.3,"r":-0.04},{"p":"g","t":1.3,"r":-0.11},{"p":"g","t":1.3,"r":-0.17},{"p":"g","t":1.3,"r":-0.24},
{"p":"g","t":2.2,"r":0.38},{"p":"g","t":2.2,"r":0.19},
{"p":"g","t":2.6,"r":0.15},{"p":"g","t":2.6,"r":0.07},{"p":"g","t":2.6,"r":-0.01},{"p":"g","t":2.6,"r":-0.08},{"p":"g","t":2.6,"r":-0.15},
{"p":"g","t":3.7,"r":0.42},{"p":"g","t":3.7,"r":0.34},{"p":"g","t":3.7,"r":0.25},{"p":"g","t":3.7,"r":0.16},{"p":"g","t":3.7,"r":0.07},{"p":"g","t":3.7,"r":-0.03},
{"p":"g","t":4.7,"r":0.49},{"p":"g","t":4.7,"r":0.4},{"p":"g","t":4.7,"r":0.31},{"p":"g","t":4.7,"r":0.22},{"p":"g","t":4.7,"r":0.12},{"p":"g","t":4.7,"r":0.03},
{"p":"g","t":6.0,"r":0.28},{"p":"g","t":6.0,"r":0.2},{"p":"g","t":6.0,"r":0.12},{"p":"g","t":6.0,"r":0.04},{"p":"g","t":6.0,"r":-0.05},
{"p":"g","t":6.9,"r":0.15},{"p":"g","t":6.9,"r":0.08},{"p":"g","t":6.9,"r":0.01},{"p":"g","t":6.9,"r":-0.05},
{"p":"g","t":8.3,"r":0.1},{"p":"g","t":8.3,"r":0.02},{"p":"g","t":8.3,"r":-0.06},{"p":"g","t":8.3,"r":-0.14},{"p":"g","t":8.3,"r":-0.2},{"p":"g","t":8.3,"r":-0.25},
{"p":"g","t":9.1,"r":-0.05},{"p":"g","t":9.1,"r":-0.11},{"p":"g","t":9.1,"r":-0.19},
{"p":"g","t":10.2,"r":-0.05},{"p":"g","t":10.2,"r":-0.12},{"p":"g","t":10.2,"r":-0.19},{"p":"g","t":10.2,"r":-0.26},{"p":"g","t":10.2,"r":-0.33},
{"p":"g","t":11.1,"r":-0.12},{"p":"g","t":11.1,"r":-0.19},{"p":"g","t":11.1,"r":-0.26},{"p":"g","t":11.1,"r":-0.33},
{"p":"g","t":12.3,"r":-0.16},{"p":"g","t":12.3,"r":-0.23},{"p":"g","t":12.3,"r":-0.3},{"p":"g","t":12.3,"r":-0.36},{"p":"g","t":12.3,"r":-0.39},
{"p":"g","t":13.7,"r":-0.16},{"p":"g","t":13.7,"r":-0.23},{"p":"g","t":13.7,"r":-0.3},{"p":"g","t":13.7,"r":-0.37},
{"p":"g","t":16.9,"r":-0.1},{"p":"g","t":16.9,"r":-0.17},
{"p":"g","t":18.2,"r":-0.08},{"p":"g","t":18.2,"r":-0.14},{"p":"g","t":18.2,"r":-0.2},
{"p":"g","t":19.5,"r":-0.03},{"p":"g","t":19.5,"r":-0.09},{"p":"g","t":19.5,"r":-0.16},
{"p":"g","t":21.1,"r":-0.12},
{"p":"g","t":22.4,"r":-0.01},{"p":"g","t":22.4,"r":-0.06},{"p":"g","t":22.4,"r":-0.12},
{"p":"g","t":23.7,"r":0.08},{"p":"g","t":23.7,"r":0.02},{"p":"g","t":23.7,"r":-0.04},{"p":"g","t":23.7,"r":-0.12},
{"p":"g","t":24.9,"r":0.04},{"p":"g","t":24.9,"r":-0.02},{"p":"g","t":24.9,"r":-0.08},
{"p":"g","t":26.0,"r":0.03},{"p":"g","t":26.0,"r":-0.03},{"p":"g","t":26.0,"r":-0.08},
{"p":"g","t":27.4,"r":0.06},{"p":"g","t":27.4,"r":0.01},{"p":"g","t":27.4,"r":-0.05},
{"p":"g","t":29.1,"r":0.08},{"p":"g","t":29.1,"r":0.03},{"p":"g","t":29.1,"r":-0.05},
{"p":"g","t":30.6,"r":0.11},{"p":"g","t":30.6,"r":0.05},{"p":"g","t":30.6,"r":-0.03},
{"p":"g","t":31.9,"r":0.13},{"p":"g","t":31.9,"r":0.07},{"p":"g","t":31.9,"r":0.01},
{"p":"g","t":33.8,"r":0.13},{"p":"g","t":33.8,"r":0.07},{"p":"g","t":33.8,"r":0.01},
{"p":"g","t":35.0,"r":0.15},{"p":"g","t":35.0,"r":0.08},{"p":"g","t":35.0,"r":0.02},{"p":"g","t":35.0,"r":-0.03},
{"p":"g","t":44.0,"r":0.12},
{"p":"g","t":45.3,"r":0.2},{"p":"g","t":45.3,"r":0.13},{"p":"g","t":45.3,"r":0.06},
{"p":"g","t":46.4,"r":0.22},{"p":"g","t":46.4,"r":0.15},{"p":"g","t":46.4,"r":0.06},
{"p":"g","t":47.8,"r":0.26},{"p":"g","t":47.8,"r":0.18},{"p":"g","t":47.8,"r":0.1},{"p":"g","t":47.8,"r":0.06},
{"p":"g","t":49.1,"r":0.26},{"p":"g","t":49.1,"r":0.18},{"p":"g","t":49.1,"r":0.1},{"p":"g","t":49.1,"r":0.03},
{"p":"h","t":1.3,"r":0.13},{"p":"h","t":1.3,"r":0.06},{"p":"h","t":1.3,"r":-0.01},{"p":"h","t":1.3,"r":-0.08},{"p":"h","t":1.3,"r":-0.15},{"p":"h","t":1.3,"r":-0.28},
{"p":"h","t":2.3,"r":0.2},{"p":"h","t":2.3,"r":0.12},{"p":"h","t":2.3,"r":0.04},{"p":"h","t":2.3,"r":-0.03},{"p":"h","t":2.3,"r":-0.17},
{"p":"h","t":3.1,"r":0.17},{"p":"h","t":3.1,"r":0.1},{"p":"h","t":3.1,"r":0.03},
{"p":"h","t":3.8,"r":0.28},{"p":"h","t":3.8,"r":0.2},{"p":"h","t":3.8,"r":0.12},{"p":"h","t":3.8,"r":0.03},
{"p":"h","t":4.6,"r":0.2},{"p":"h","t":4.6,"r":0.13},{"p":"h","t":4.6,"r":0.1},
{"p":"h","t":5.3,"r":0.33},{"p":"h","t":5.3,"r":0.25},{"p":"h","t":5.3,"r":0.17},{"p":"h","t":5.3,"r":0.1},
{"p":"h","t":6.3,"r":0.26},{"p":"h","t":6.3,"r":0.17},{"p":"h","t":6.3,"r":0.08},{"p":"h","t":6.3,"r":0.0},{"p":"h","t":6.3,"r":-0.08},
{"p":"h","t":7.3,"r":0.24},{"p":"h","t":7.3,"r":0.16},{"p":"h","t":7.3,"r":0.08},{"p":"h","t":7.3,"r":-0.05},
{"p":"h","t":8.4,"r":0.1},{"p":"h","t":8.4,"r":0.03},{"p":"h","t":8.4,"r":-0.04},{"p":"h","t":8.4,"r":-0.12},{"p":"h","t":8.4,"r":-0.22},
{"p":"h","t":9.5,"r":0.08},{"p":"h","t":9.5,"r":0.0},
{"p":"h","t":10.3,"r":-0.01},{"p":"h","t":10.3,"r":-0.08},{"p":"h","t":10.3,"r":-0.15},{"p":"h","t":10.3,"r":-0.22},{"p":"h","t":10.3,"r":-0.28},
{"p":"h","t":11.5,"r":-0.08},{"p":"h","t":11.5,"r":-0.14},{"p":"h","t":11.5,"r":-0.2},{"p":"h","t":11.5,"r":-0.25},
{"p":"h","t":12.4,"r":-0.08},{"p":"h","t":12.4,"r":-0.14},{"p":"h","t":12.4,"r":-0.2},{"p":"h","t":12.4,"r":-0.26},
{"p":"h","t":13.7,"r":-0.08},{"p":"h","t":13.7,"r":-0.14},{"p":"h","t":13.7,"r":-0.2},{"p":"h","t":13.7,"r":-0.26},
{"p":"h","t":14.9,"r":-0.19},{"p":"h","t":17.6,"r":-0.12},
{"p":"h","t":18.3,"r":-0.08},{"p":"h","t":18.3,"r":-0.15},{"p":"h","t":18.3,"r":-0.22},{"p":"h","t":18.3,"r":-0.26},
{"p":"h","t":19.5,"r":-0.05},{"p":"h","t":19.5,"r":-0.1},{"p":"h","t":19.5,"r":-0.16},{"p":"h","t":19.5,"r":-0.24},
{"p":"h","t":21.1,"r":-0.06},
{"p":"h","t":22.5,"r":0.06},{"p":"h","t":22.5,"r":0.0},{"p":"h","t":22.5,"r":-0.06},{"p":"h","t":22.5,"r":-0.12},
{"p":"h","t":23.7,"r":0.06},{"p":"h","t":23.7,"r":0.0},{"p":"h","t":23.7,"r":-0.06},{"p":"h","t":23.7,"r":-0.12},
{"p":"h","t":25.0,"r":0.03},{"p":"h","t":25.0,"r":-0.02},{"p":"h","t":25.0,"r":-0.08},
{"p":"h","t":26.2,"r":0.04},{"p":"h","t":26.2,"r":-0.01},{"p":"h","t":26.2,"r":-0.06},
{"p":"h","t":27.1,"r":0.06},{"p":"h","t":27.1,"r":0.01},{"p":"h","t":27.1,"r":-0.05},
{"p":"h","t":28.2,"r":0.08},{"p":"h","t":28.2,"r":0.03},{"p":"h","t":28.2,"r":-0.05},
{"p":"h","t":29.4,"r":0.1},{"p":"h","t":29.4,"r":0.04},{"p":"h","t":29.4,"r":-0.01},
{"p":"h","t":30.7,"r":0.12},{"p":"h","t":30.7,"r":0.06},{"p":"h","t":30.7,"r":-0.01},
{"p":"h","t":31.9,"r":0.13},{"p":"h","t":31.9,"r":0.07},{"p":"h","t":31.9,"r":0.03},
{"p":"h","t":34.0,"r":0.13},{"p":"h","t":34.0,"r":0.07},{"p":"h","t":34.0,"r":0.03},
{"p":"h","t":35.3,"r":0.15},{"p":"h","t":35.3,"r":0.08},{"p":"h","t":35.3,"r":0.02},
{"p":"h","t":40.3,"r":0.12},{"p":"h","t":41.6,"r":0.11},{"p":"h","t":43.0,"r":0.12},
{"p":"h","t":45.2,"r":0.2},{"p":"h","t":45.2,"r":0.13},{"p":"h","t":45.2,"r":0.06},{"p":"h","t":45.2,"r":0.0},
{"p":"h","t":46.4,"r":0.22},{"p":"h","t":46.4,"r":0.14},{"p":"h","t":46.4,"r":0.08},
{"p":"h","t":47.9,"r":0.26},{"p":"h","t":47.9,"r":0.18},{"p":"h","t":47.9,"r":0.1},{"p":"h","t":47.9,"r":0.0},
{"p":"h","t":49.1,"r":0.26},{"p":"h","t":49.1,"r":0.18},{"p":"h","t":49.1,"r":0.08},
{"p":"i","t":1.3,"r":0.14},{"p":"i","t":1.3,"r":0.06},{"p":"i","t":1.3,"r":-0.02},{"p":"i","t":1.3,"r":-0.09},{"p":"i","t":1.3,"r":-0.16},{"p":"i","t":1.3,"r":-0.24},
{"p":"i","t":2.6,"r":0.43},{"p":"i","t":2.6,"r":0.21},{"p":"i","t":2.6,"r":0.13},{"p":"i","t":2.6,"r":0.05},{"p":"i","t":2.6,"r":-0.03},{"p":"i","t":2.6,"r":-0.11},{"p":"i","t":2.6,"r":-0.24},
{"p":"i","t":3.7,"r":0.37},{"p":"i","t":3.7,"r":0.29},{"p":"i","t":3.7,"r":0.2},{"p":"i","t":3.7,"r":0.12},{"p":"i","t":3.7,"r":0.04},{"p":"i","t":3.7,"r":-0.04},
{"p":"i","t":4.7,"r":0.37},{"p":"i","t":4.7,"r":0.29},{"p":"i","t":4.7,"r":0.21},{"p":"i","t":4.7,"r":0.13},{"p":"i","t":4.7,"r":0.06},
{"p":"i","t":6.0,"r":0.23},{"p":"i","t":6.0,"r":0.16},{"p":"i","t":6.0,"r":0.08},{"p":"i","t":6.0,"r":0.01},{"p":"i","t":6.0,"r":-0.04},
{"p":"i","t":6.9,"r":0.15},{"p":"i","t":6.9,"r":0.08},{"p":"i","t":6.9,"r":0.0},{"p":"i","t":6.9,"r":-0.08},
{"p":"i","t":8.3,"r":0.08},{"p":"i","t":8.3,"r":0.01},{"p":"i","t":8.3,"r":-0.06},{"p":"i","t":8.3,"r":-0.13},{"p":"i","t":8.3,"r":-0.22},
{"p":"i","t":9.1,"r":-0.04},{"p":"i","t":9.1,"r":-0.1},{"p":"i","t":9.1,"r":-0.2},
{"p":"i","t":10.2,"r":-0.04},{"p":"i","t":10.2,"r":-0.11},{"p":"i","t":10.2,"r":-0.18},{"p":"i","t":10.2,"r":-0.25},
{"p":"i","t":11.1,"r":-0.12},{"p":"i","t":11.1,"r":-0.18},{"p":"i","t":11.1,"r":-0.25},{"p":"i","t":11.1,"r":-0.31},
{"p":"i","t":12.3,"r":-0.12},{"p":"i","t":12.3,"r":-0.19},{"p":"i","t":12.3,"r":-0.26},{"p":"i","t":12.3,"r":-0.33},
{"p":"i","t":13.7,"r":-0.15},{"p":"i","t":13.7,"r":-0.2},{"p":"i","t":13.7,"r":-0.25},{"p":"i","t":13.7,"r":-0.28},
{"p":"i","t":16.9,"r":-0.28},
{"p":"i","t":18.2,"r":-0.04},{"p":"i","t":18.2,"r":-0.1},{"p":"i","t":18.2,"r":-0.16},
{"p":"i","t":19.5,"r":-0.04},{"p":"i","t":19.5,"r":-0.1},{"p":"i","t":19.5,"r":-0.17},
{"p":"i","t":21.1,"r":-0.13},
{"p":"i","t":22.4,"r":0.01},{"p":"i","t":22.4,"r":-0.04},{"p":"i","t":22.4,"r":-0.1},
{"p":"i","t":23.7,"r":0.03},{"p":"i","t":23.7,"r":-0.03},{"p":"i","t":23.7,"r":-0.1},
{"p":"i","t":24.9,"r":0.03},{"p":"i","t":24.9,"r":-0.02},{"p":"i","t":24.9,"r":-0.08},
{"p":"i","t":26.0,"r":0.03},{"p":"i","t":26.0,"r":-0.01},{"p":"i","t":26.0,"r":-0.04},
{"p":"i","t":27.4,"r":0.06},{"p":"i","t":27.4,"r":0.0},{"p":"i","t":27.4,"r":-0.04},
{"p":"i","t":29.1,"r":0.1},{"p":"i","t":29.1,"r":0.04},{"p":"i","t":29.1,"r":-0.03},
{"p":"i","t":30.6,"r":0.1},{"p":"i","t":30.6,"r":0.05},{"p":"i","t":30.6,"r":-0.01},
{"p":"i","t":31.9,"r":0.12},{"p":"i","t":31.9,"r":0.06},{"p":"i","t":31.9,"r":-0.01},
{"p":"i","t":33.8,"r":0.12},{"p":"i","t":33.8,"r":0.06},{"p":"i","t":33.8,"r":0.03},
{"p":"i","t":35.0,"r":0.19},{"p":"i","t":35.0,"r":0.12},{"p":"i","t":35.0,"r":0.03},
{"p":"i","t":44.0,"r":0.19},
{"p":"i","t":45.3,"r":0.26},{"p":"i","t":45.3,"r":0.17},{"p":"i","t":45.3,"r":0.08},{"p":"i","t":45.3,"r":0.03},
{"p":"i","t":46.4,"r":0.26},{"p":"i","t":46.4,"r":0.18},{"p":"i","t":46.4,"r":0.08},
{"p":"i","t":47.8,"r":0.28},{"p":"i","t":47.8,"r":0.18},{"p":"i","t":47.8,"r":0.08},
{"p":"i","t":49.1,"r":0.26},{"p":"i","t":49.1,"r":0.17},{"p":"i","t":49.1,"r":0.08},
{"p":"j","t":1.3,"r":0.32},{"p":"j","t":1.3,"r":0.2},{"p":"j","t":1.3,"r":0.11},{"p":"j","t":1.3,"r":0.02},{"p":"j","t":1.3,"r":-0.07},{"p":"j","t":1.3,"r":-0.16},{"p":"j","t":1.3,"r":-0.26},
{"p":"j","t":2.3,"r":0.36},{"p":"j","t":2.3,"r":0.23},{"p":"j","t":2.3,"r":0.14},{"p":"j","t":2.3,"r":0.05},{"p":"j","t":2.3,"r":-0.04},{"p":"j","t":2.3,"r":-0.11},{"p":"j","t":2.3,"r":-0.21},
{"p":"j","t":3.1,"r":0.35},{"p":"j","t":3.1,"r":0.25},{"p":"j","t":3.1,"r":0.15},{"p":"j","t":3.1,"r":0.06},{"p":"j","t":3.1,"r":-0.03},{"p":"j","t":3.1,"r":-0.24},
{"p":"j","t":3.8,"r":0.38},{"p":"j","t":3.8,"r":0.28},{"p":"j","t":3.8,"r":0.18},{"p":"j","t":3.8,"r":0.08},{"p":"j","t":3.8,"r":0.03},
{"p":"j","t":3.7,"r":-0.62},
{"p":"j","t":4.6,"r":0.33},{"p":"j","t":4.6,"r":0.24},{"p":"j","t":4.6,"r":0.15},{"p":"j","t":4.6,"r":0.06},{"p":"j","t":4.6,"r":-0.04},
{"p":"j","t":5.3,"r":0.28},{"p":"j","t":5.3,"r":0.18},{"p":"j","t":5.3,"r":0.07},{"p":"j","t":5.3,"r":-0.04},{"p":"j","t":5.3,"r":-0.2},
{"p":"j","t":6.3,"r":0.21},{"p":"j","t":6.3,"r":0.13},{"p":"j","t":6.3,"r":0.05},{"p":"j","t":6.3,"r":-0.03},{"p":"j","t":6.3,"r":-0.11},
{"p":"j","t":7.3,"r":0.26},{"p":"j","t":7.3,"r":0.17},{"p":"j","t":7.3,"r":0.08},{"p":"j","t":7.3,"r":-0.04},
{"p":"j","t":8.0,"r":0.17},{"p":"j","t":8.0,"r":0.08},{"p":"j","t":8.0,"r":-0.01},{"p":"j","t":8.0,"r":-0.09},{"p":"j","t":8.0,"r":-0.19},
{"p":"j","t":9.2,"r":0.19},{"p":"j","t":9.2,"r":0.1},{"p":"j","t":9.2,"r":0.01},{"p":"j","t":9.2,"r":-0.1},
{"p":"j","t":10.3,"r":0.1},{"p":"j","t":10.3,"r":0.01},{"p":"j","t":10.3,"r":-0.08},{"p":"j","t":10.3,"r":-0.17},{"p":"j","t":10.3,"r":-0.25},
{"p":"j","t":11.5,"r":-0.04},{"p":"j","t":11.5,"r":-0.11},{"p":"j","t":11.5,"r":-0.18},{"p":"j","t":11.5,"r":-0.25},
{"p":"j","t":12.4,"r":-0.08},{"p":"j","t":12.4,"r":-0.14},{"p":"j","t":12.4,"r":-0.2},{"p":"j","t":12.4,"r":-0.24},
{"p":"j","t":13.7,"r":-0.1},{"p":"j","t":13.7,"r":-0.16},{"p":"j","t":13.7,"r":-0.2},{"p":"j","t":13.7,"r":-0.26},
{"p":"j","t":14.9,"r":-0.2},{"p":"j","t":17.2,"r":-0.12},
{"p":"j","t":18.3,"r":-0.04},{"p":"j","t":18.3,"r":-0.11},{"p":"j","t":18.3,"r":-0.18},{"p":"j","t":18.3,"r":-0.26},
{"p":"j","t":19.5,"r":-0.04},{"p":"j","t":19.5,"r":-0.1},{"p":"j","t":19.5,"r":-0.17},
{"p":"j","t":21.1,"r":-0.04},
{"p":"j","t":22.5,"r":0.03},{"p":"j","t":22.5,"r":-0.04},{"p":"j","t":22.5,"r":-0.11},
{"p":"j","t":23.7,"r":0.03},{"p":"j","t":23.7,"r":-0.03},{"p":"j","t":23.7,"r":-0.11},
{"p":"j","t":25.0,"r":0.03},{"p":"j","t":25.0,"r":-0.02},{"p":"j","t":25.0,"r":-0.08},
{"p":"j","t":26.2,"r":0.06},{"p":"j","t":26.2,"r":0.0},{"p":"j","t":26.2,"r":-0.04},
{"p":"j","t":27.1,"r":0.06},{"p":"j","t":27.1,"r":0.01},{"p":"j","t":27.1,"r":-0.04},
{"p":"j","t":28.2,"r":0.08},{"p":"j","t":28.2,"r":0.02},{"p":"j","t":28.2,"r":-0.01},
{"p":"j","t":29.4,"r":0.1},{"p":"j","t":29.4,"r":0.04},{"p":"j","t":29.4,"r":-0.01},
{"p":"j","t":30.7,"r":0.12},{"p":"j","t":30.7,"r":0.06},{"p":"j","t":30.7,"r":0.03},
{"p":"j","t":31.9,"r":0.1},{"p":"j","t":31.9,"r":0.05},{"p":"j","t":31.9,"r":0.03},
{"p":"j","t":34.0,"r":0.15},{"p":"j","t":34.0,"r":0.08},{"p":"j","t":34.0,"r":0.03},
{"p":"j","t":35.3,"r":0.17},{"p":"j","t":35.3,"r":0.1},{"p":"j","t":35.3,"r":0.03},
{"p":"j","t":41.6,"r":0.1},{"p":"j","t":43.9,"r":0.08},
{"p":"j","t":45.2,"r":0.19},{"p":"j","t":45.2,"r":0.12},{"p":"j","t":45.2,"r":0.03},
{"p":"j","t":46.4,"r":0.19},{"p":"j","t":46.4,"r":0.12},{"p":"j","t":46.4,"r":0.05},
{"p":"j","t":47.9,"r":0.21},{"p":"j","t":47.9,"r":0.13},{"p":"j","t":47.9,"r":0.03},
{"p":"j","t":49.1,"r":0.24},{"p":"j","t":49.1,"r":0.15},{"p":"j","t":49.1,"r":0.08},
{"p":"k","t":1.3,"r":0.1},{"p":"k","t":1.3,"r":0.03},{"p":"k","t":1.3,"r":-0.04},{"p":"k","t":1.3,"r":-0.11},{"p":"k","t":1.3,"r":-0.17},
{"p":"k","t":2.2,"r":0.37},{"p":"k","t":2.2,"r":0.2},
{"p":"k","t":2.6,"r":0.13},{"p":"k","t":2.6,"r":0.05},{"p":"k","t":2.6,"r":-0.03},{"p":"k","t":2.6,"r":-0.1},{"p":"k","t":2.6,"r":-0.15},
{"p":"k","t":3.7,"r":0.3},{"p":"k","t":3.7,"r":0.22},{"p":"k","t":3.7,"r":0.13},{"p":"k","t":3.7,"r":0.04},{"p":"k","t":3.7,"r":-0.05},{"p":"k","t":3.7,"r":-0.14},
{"p":"k","t":4.7,"r":0.37},{"p":"k","t":4.7,"r":0.28},{"p":"k","t":4.7,"r":0.19},{"p":"k","t":4.7,"r":0.1},{"p":"k","t":4.7,"r":0.01},{"p":"k","t":4.7,"r":-0.05},
{"p":"k","t":6.0,"r":0.28},{"p":"k","t":6.0,"r":0.2},{"p":"k","t":6.0,"r":0.12},{"p":"k","t":6.0,"r":0.04},{"p":"k","t":6.0,"r":-0.05},
{"p":"k","t":7.5,"r":-0.14},
{"p":"k","t":8.3,"r":0.13},{"p":"k","t":8.3,"r":0.05},{"p":"k","t":8.3,"r":-0.03},{"p":"k","t":8.3,"r":-0.11},{"p":"k","t":8.3,"r":-0.17},{"p":"k","t":8.3,"r":-0.24},
{"p":"k","t":9.1,"r":-0.16},{"p":"k","t":9.1,"r":-0.21},
{"p":"k","t":10.2,"r":0.01},{"p":"k","t":10.2,"r":-0.06},{"p":"k","t":10.2,"r":-0.13},{"p":"k","t":10.2,"r":-0.2},{"p":"k","t":10.2,"r":-0.26},
{"p":"k","t":11.1,"r":-0.12},{"p":"k","t":11.1,"r":-0.18},{"p":"k","t":11.1,"r":-0.24},{"p":"k","t":11.1,"r":-0.3},
{"p":"k","t":12.3,"r":-0.12},{"p":"k","t":12.3,"r":-0.19},{"p":"k","t":12.3,"r":-0.26},{"p":"k","t":12.3,"r":-0.32},
{"p":"k","t":13.7,"r":-0.12},{"p":"k","t":13.7,"r":-0.19},{"p":"k","t":13.7,"r":-0.26},{"p":"k","t":13.7,"r":-0.32},
{"p":"k","t":15.6,"r":-0.13},{"p":"k","t":16.9,"r":-0.12},
{"p":"k","t":19.5,"r":-0.01},{"p":"k","t":19.5,"r":-0.06},{"p":"k","t":19.5,"r":-0.13},
{"p":"k","t":21.1,"r":-0.05},{"p":"k","t":22.4,"r":-0.02},
{"p":"k","t":23.7,"r":0.04},{"p":"k","t":23.7,"r":-0.02},{"p":"k","t":23.7,"r":-0.08},{"p":"k","t":23.7,"r":-0.12},
{"p":"k","t":24.9,"r":0.06},{"p":"k","t":24.9,"r":0.0},{"p":"k","t":24.9,"r":-0.06},
{"p":"k","t":26.0,"r":0.04},
{"p":"k","t":27.4,"r":0.08},{"p":"k","t":27.4,"r":0.03},{"p":"k","t":27.4,"r":-0.03},
{"p":"k","t":29.1,"r":0.1},{"p":"k","t":29.1,"r":0.04},{"p":"k","t":29.1,"r":-0.01},
{"p":"k","t":31.9,"r":0.13},{"p":"k","t":31.9,"r":0.07},{"p":"k","t":31.9,"r":0.01},
{"p":"k","t":32.5,"r":0.1},
{"p":"k","t":35.0,"r":0.17},{"p":"k","t":35.0,"r":0.1},{"p":"k","t":35.0,"r":0.03},{"p":"k","t":35.0,"r":-0.01},
{"p":"k","t":42.4,"r":0.11},{"p":"k","t":43.8,"r":0.16},{"p":"k","t":45.3,"r":0.13},
{"p":"k","t":46.4,"r":0.22},{"p":"k","t":46.4,"r":0.14},{"p":"k","t":46.4,"r":0.06},{"p":"k","t":46.4,"r":0.01},
{"p":"k","t":49.1,"r":0.24},{"p":"k","t":49.1,"r":0.16},{"p":"k","t":49.1,"r":0.08},{"p":"k","t":49.1,"r":0.03},
{"p":"l","t":1.3,"r":0.1},{"p":"l","t":1.3,"r":0.03},{"p":"l","t":1.3,"r":-0.04},{"p":"l","t":1.3,"r":-0.11},{"p":"l","t":1.3,"r":-0.17},{"p":"l","t":1.3,"r":-0.25},{"p":"l","t":1.3,"r":-0.35},
{"p":"l","t":2.3,"r":0.26},{"p":"l","t":2.3,"r":0.18},{"p":"l","t":2.3,"r":0.1},{"p":"l","t":2.3,"r":0.02},{"p":"l","t":2.3,"r":-0.06},{"p":"l","t":2.3,"r":-0.12},
{"p":"l","t":3.1,"r":0.26},{"p":"l","t":3.1,"r":0.17},{"p":"l","t":3.1,"r":0.08},{"p":"l","t":3.1,"r":0.0},{"p":"l","t":3.1,"r":-0.05},
{"p":"l","t":3.8,"r":0.17},{"p":"l","t":3.8,"r":0.08},{"p":"l","t":3.8,"r":0.0},{"p":"l","t":3.8,"r":-0.05},
{"p":"l","t":4.6,"r":0.38},{"p":"l","t":4.6,"r":0.3},{"p":"l","t":4.6,"r":0.22},{"p":"l","t":4.6,"r":0.14},{"p":"l","t":4.6,"r":0.06},
{"p":"l","t":5.3,"r":0.26},{"p":"l","t":5.3,"r":0.17},{"p":"l","t":5.3,"r":0.08},{"p":"l","t":5.3,"r":0.0},
{"p":"l","t":6.3,"r":0.28},{"p":"l","t":6.3,"r":0.18},{"p":"l","t":6.3,"r":0.08},{"p":"l","t":6.3,"r":-0.02},{"p":"l","t":6.3,"r":-0.12},
{"p":"l","t":7.3,"r":0.06},{"p":"l","t":7.3,"r":0.0},{"p":"l","t":7.3,"r":-0.05},
{"p":"l","t":8.4,"r":0.13},{"p":"l","t":8.4,"r":0.05},{"p":"l","t":8.4,"r":-0.03},{"p":"l","t":8.4,"r":-0.11},{"p":"l","t":8.4,"r":-0.16},
{"p":"l","t":9.2,"r":-0.16},{"p":"l","t":9.2,"r":-0.23},
{"p":"l","t":10.3,"r":-0.08},{"p":"l","t":10.3,"r":-0.15},{"p":"l","t":10.3,"r":-0.22},{"p":"l","t":10.3,"r":-0.29},
{"p":"l","t":11.5,"r":-0.08},{"p":"l","t":11.5,"r":-0.15},{"p":"l","t":11.5,"r":-0.22},{"p":"l","t":11.5,"r":-0.28},
{"p":"l","t":12.4,"r":-0.12},{"p":"l","t":12.4,"r":-0.18},{"p":"l","t":12.4,"r":-0.24},{"p":"l","t":12.4,"r":-0.28},
{"p":"l","t":13.7,"r":-0.08},{"p":"l","t":13.7,"r":-0.15},{"p":"l","t":13.7,"r":-0.22},{"p":"l","t":13.7,"r":-0.26},
{"p":"l","t":15.6,"r":-0.19},{"p":"l","t":16.8,"r":-0.19},{"p":"l","t":18.3,"r":-0.1},
{"p":"l","t":19.5,"r":-0.03},{"p":"l","t":19.5,"r":-0.09},{"p":"l","t":19.5,"r":-0.16},
{"p":"l","t":21.0,"r":-0.12},{"p":"l","t":22.5,"r":-0.07},
{"p":"l","t":23.7,"r":0.03},{"p":"l","t":23.7,"r":-0.04},{"p":"l","t":23.7,"r":-0.12},
{"p":"l","t":25.0,"r":0.06},{"p":"l","t":25.0,"r":-0.02},{"p":"l","t":25.0,"r":-0.12},
{"p":"l","t":26.2,"r":0.03},
{"p":"l","t":27.1,"r":0.06},{"p":"l","t":27.1,"r":0.0},{"p":"l","t":27.1,"r":-0.05},
{"p":"l","t":28.2,"r":0.08},{"p":"l","t":28.2,"r":0.02},{"p":"l","t":28.2,"r":-0.05},
{"p":"l","t":29.4,"r":0.08},{"p":"l","t":29.4,"r":0.03},{"p":"l","t":29.4,"r":-0.01},
{"p":"l","t":30.7,"r":0.09},
{"p":"l","t":31.9,"r":0.11},{"p":"l","t":31.9,"r":0.05},{"p":"l","t":31.9,"r":-0.01},
{"p":"l","t":34.0,"r":0.11},
{"p":"l","t":35.3,"r":0.15},{"p":"l","t":35.3,"r":0.08},{"p":"l","t":35.3,"r":0.03},
{"p":"l","t":42.7,"r":0.13},{"p":"l","t":43.9,"r":0.15},{"p":"l","t":45.2,"r":0.15},
{"p":"l","t":46.4,"r":0.19},{"p":"l","t":46.4,"r":0.11},{"p":"l","t":46.4,"r":0.03},
{"p":"l","t":47.9,"r":0.15},
{"p":"l","t":49.1,"r":0.19},{"p":"l","t":49.1,"r":0.12},{"p":"l","t":49.1,"r":0.06},
{"p":"m","t":1.3,"r":0.17},{"p":"m","t":1.3,"r":0.1},{"p":"m","t":1.3,"r":0.03},{"p":"m","t":1.3,"r":-0.04},{"p":"m","t":1.3,"r":-0.1},{"p":"m","t":1.3,"r":-0.17},{"p":"m","t":1.3,"r":-0.32},
{"p":"m","t":2.6,"r":0.22},{"p":"m","t":2.6,"r":0.15},{"p":"m","t":2.6,"r":0.07},{"p":"m","t":2.6,"r":0.0},{"p":"m","t":2.6,"r":-0.06},{"p":"m","t":2.6,"r":-0.11},
{"p":"m","t":3.7,"r":0.26},{"p":"m","t":3.7,"r":0.18},{"p":"m","t":3.7,"r":0.1},{"p":"m","t":3.7,"r":0.03},{"p":"m","t":3.7,"r":-0.04},
{"p":"m","t":4.7,"r":0.21},{"p":"m","t":4.7,"r":0.14},{"p":"m","t":4.7,"r":0.07},{"p":"m","t":4.7,"r":0.0},{"p":"m","t":4.7,"r":-0.1},
{"p":"m","t":6.0,"r":0.19},{"p":"m","t":6.0,"r":0.12},{"p":"m","t":6.0,"r":0.05},{"p":"m","t":6.0,"r":-0.02},{"p":"m","t":6.0,"r":-0.08},
{"p":"m","t":6.9,"r":0.06},{"p":"m","t":6.9,"r":0.01},{"p":"m","t":6.9,"r":-0.04},
{"p":"m","t":8.3,"r":0.08},{"p":"m","t":8.3,"r":0.0},{"p":"m","t":8.3,"r":-0.08},{"p":"m","t":8.3,"r":-0.16},{"p":"m","t":8.3,"r":-0.28},
{"p":"m","t":9.1,"r":-0.04},{"p":"m","t":9.1,"r":-0.1},{"p":"m","t":9.1,"r":-0.19},
{"p":"m","t":10.2,"r":-0.03},{"p":"m","t":10.2,"r":-0.1},{"p":"m","t":10.2,"r":-0.17},{"p":"m","t":10.2,"r":-0.24},{"p":"m","t":10.2,"r":-0.31},
{"p":"m","t":11.1,"r":-0.08},{"p":"m","t":11.1,"r":-0.14},{"p":"m","t":11.1,"r":-0.2},{"p":"m","t":11.1,"r":-0.26},
{"p":"m","t":12.3,"r":-0.08},{"p":"m","t":12.3,"r":-0.14},{"p":"m","t":12.3,"r":-0.2},{"p":"m","t":12.3,"r":-0.24},
{"p":"m","t":13.7,"r":-0.08},{"p":"m","t":13.7,"r":-0.13},{"p":"m","t":13.7,"r":-0.19},
{"p":"m","t":16.9,"r":-0.12},{"p":"m","t":16.9,"r":-0.17},
{"p":"m","t":18.2,"r":-0.08},{"p":"m","t":18.2,"r":-0.13},{"p":"m","t":18.2,"r":-0.17},
{"p":"m","t":19.5,"r":0.06},{"p":"m","t":19.5,"r":-0.01},{"p":"m","t":19.5,"r":-0.08},{"p":"m","t":19.5,"r":-0.14},{"p":"m","t":19.5,"r":-0.19},
{"p":"m","t":21.1,"r":-0.12},
{"p":"m","t":22.4,"r":-0.04},{"p":"m","t":22.4,"r":-0.1},
{"p":"m","t":23.7,"r":0.03},{"p":"m","t":23.7,"r":-0.02},{"p":"m","t":23.7,"r":-0.08},
{"p":"m","t":24.9,"r":0.01},{"p":"m","t":24.9,"r":-0.03},{"p":"m","t":24.9,"r":-0.06},
{"p":"m","t":26.0,"r":0.01},{"p":"m","t":26.0,"r":-0.02},{"p":"m","t":26.0,"r":-0.04},
{"p":"m","t":27.4,"r":0.06},{"p":"m","t":27.4,"r":0.0},{"p":"m","t":27.4,"r":-0.04},
{"p":"m","t":29.1,"r":0.1},{"p":"m","t":29.1,"r":0.04},{"p":"m","t":29.1,"r":-0.01},
{"p":"m","t":30.6,"r":0.12},{"p":"m","t":30.6,"r":0.06},{"p":"m","t":30.6,"r":0.03},
{"p":"m","t":31.9,"r":0.14},{"p":"m","t":31.9,"r":0.08},{"p":"m","t":31.9,"r":0.03},
{"p":"m","t":33.8,"r":0.12},{"p":"m","t":33.8,"r":0.07},{"p":"m","t":33.8,"r":0.05},
{"p":"m","t":35.0,"r":0.17},{"p":"m","t":35.0,"r":0.1},{"p":"m","t":35.0,"r":0.03},
{"p":"m","t":43.7,"r":0.12},{"p":"m","t":43.7,"r":0.07},
{"p":"m","t":45.1,"r":0.17},{"p":"m","t":45.1,"r":0.1},
{"p":"m","t":46.4,"r":0.21},{"p":"m","t":46.4,"r":0.13},{"p":"m","t":46.4,"r":0.05},{"p":"m","t":46.4,"r":-0.02},
{"p":"m","t":47.8,"r":0.21},{"p":"m","t":47.8,"r":0.14},{"p":"m","t":47.8,"r":0.08},
{"p":"m","t":49.1,"r":0.24},{"p":"m","t":49.1,"r":0.15},{"p":"m","t":49.1,"r":0.06},{"p":"m","t":49.1,"r":-0.02},
{"p":"n","t":1.3,"r":0.14},{"p":"n","t":1.3,"r":0.06},{"p":"n","t":1.3,"r":-0.02},{"p":"n","t":1.3,"r":-0.09},{"p":"n","t":1.3,"r":-0.15},
{"p":"n","t":2.3,"r":0.28},{"p":"n","t":2.3,"r":0.19},{"p":"n","t":2.3,"r":0.11},{"p":"n","t":2.3,"r":0.03},{"p":"n","t":2.3,"r":-0.05},{"p":"n","t":2.3,"r":-0.12},
{"p":"n","t":3.1,"r":0.21},{"p":"n","t":3.1,"r":0.14},{"p":"n","t":3.1,"r":0.07},{"p":"n","t":3.1,"r":0.0},
{"p":"n","t":3.8,"r":0.23},{"p":"n","t":3.8,"r":0.15},{"p":"n","t":3.8,"r":0.07},{"p":"n","t":3.8,"r":0.0},
{"p":"n","t":4.6,"r":0.21},{"p":"n","t":4.6,"r":0.14},{"p":"n","t":4.6,"r":0.07},{"p":"n","t":4.6,"r":0.0},
{"p":"n","t":5.3,"r":0.17},{"p":"n","t":5.3,"r":0.1},{"p":"n","t":5.3,"r":0.0},
{"p":"n","t":6.3,"r":0.23},{"p":"n","t":6.3,"r":0.14},{"p":"n","t":6.3,"r":0.05},{"p":"n","t":6.3,"r":0.0},
{"p":"n","t":7.3,"r":0.14},{"p":"n","t":7.3,"r":0.06},{"p":"n","t":7.3,"r":-0.02},{"p":"n","t":7.3,"r":-0.15},
{"p":"n","t":8.4,"r":0.16},{"p":"n","t":8.4,"r":0.08},{"p":"n","t":8.4,"r":0.0},{"p":"n","t":8.4,"r":-0.04},
{"p":"n","t":9.2,"r":-0.04},{"p":"n","t":9.2,"r":-0.1},{"p":"n","t":9.2,"r":-0.17},{"p":"n","t":9.2,"r":-0.25},
{"p":"n","t":10.3,"r":-0.08},{"p":"n","t":10.3,"r":-0.14},{"p":"n","t":10.3,"r":-0.2},{"p":"n","t":10.3,"r":-0.26},
{"p":"n","t":11.5,"r":-0.04},{"p":"n","t":11.5,"r":-0.1},{"p":"n","t":11.5,"r":-0.17},{"p":"n","t":11.5,"r":-0.22},
{"p":"n","t":12.4,"r":-0.11},{"p":"n","t":12.4,"r":-0.17},{"p":"n","t":12.4,"r":-0.23},{"p":"n","t":12.4,"r":-0.26},
{"p":"n","t":13.7,"r":0.0},{"p":"n","t":13.7,"r":-0.08},{"p":"n","t":13.7,"r":-0.15},{"p":"n","t":13.7,"r":-0.22},{"p":"n","t":13.7,"r":-0.26},
{"p":"n","t":15.6,"r":-0.24},{"p":"n","t":16.8,"r":-0.15},{"p":"n","t":17.6,"r":-0.04},{"p":"n","t":18.3,"r":-0.13},
{"p":"n","t":19.5,"r":0.05},{"p":"n","t":19.5,"r":-0.03},{"p":"n","t":19.5,"r":-0.11},{"p":"n","t":19.5,"r":-0.19},{"p":"n","t":19.5,"r":-0.28},
{"p":"n","t":21.0,"r":-0.08},{"p":"n","t":22.5,"r":-0.04},
{"p":"n","t":23.7,"r":-0.01},{"p":"n","t":23.7,"r":-0.07},{"p":"n","t":23.7,"r":-0.13},{"p":"n","t":23.7,"r":-0.2},
{"p":"n","t":25.0,"r":0.01},{"p":"n","t":25.0,"r":-0.05},{"p":"n","t":25.0,"r":-0.12},
{"p":"n","t":26.2,"r":0.06},{"p":"n","t":26.2,"r":0.0},{"p":"n","t":26.2,"r":-0.08},
{"p":"n","t":27.1,"r":0.06},{"p":"n","t":27.1,"r":0.0},
{"p":"n","t":28.2,"r":0.1},
{"p":"n","t":29.4,"r":0.06},{"p":"n","t":29.4,"r":0.03},
{"p":"n","t":30.7,"r":0.19},{"p":"n","t":30.7,"r":0.12},{"p":"n","t":30.7,"r":0.06},
{"p":"n","t":31.9,"r":0.14},{"p":"n","t":31.9,"r":0.07},{"p":"n","t":31.9,"r":0.03},
{"p":"n","t":34.0,"r":0.12},
{"p":"n","t":35.3,"r":0.16},{"p":"n","t":35.3,"r":0.1},{"p":"n","t":35.3,"r":0.05},
{"p":"n","t":40.1,"r":0.02},{"p":"n","t":42.4,"r":0.17},{"p":"n","t":43.1,"r":0.06},
{"p":"n","t":45.2,"r":0.23},{"p":"n","t":45.2,"r":0.16},{"p":"n","t":45.2,"r":0.1},
{"p":"n","t":46.4,"r":0.16},{"p":"n","t":46.4,"r":0.08},{"p":"n","t":46.4,"r":0.0},
{"p":"n","t":47.9,"r":0.23},{"p":"n","t":47.9,"r":0.18},
{"p":"n","t":49.1,"r":0.23},{"p":"n","t":49.1,"r":0.15},{"p":"n","t":49.1,"r":0.07},{"p":"n","t":49.1,"r":-0.01},
{"p":"o","t":1.1,"r":0.17},{"p":"o","t":1.1,"r":0.1},{"p":"o","t":1.1,"r":0.03},{"p":"o","t":1.1,"r":-0.04},{"p":"o","t":1.1,"r":-0.1},{"p":"o","t":1.1,"r":-0.18},
{"p":"o","t":2.6,"r":0.17},{"p":"o","t":2.6,"r":0.1},{"p":"o","t":2.6,"r":0.03},{"p":"o","t":2.6,"r":-0.04},{"p":"o","t":2.6,"r":-0.11},{"p":"o","t":2.6,"r":-0.29},
{"p":"o","t":3.7,"r":0.19},{"p":"o","t":3.7,"r":0.12},{"p":"o","t":3.7,"r":0.05},{"p":"o","t":3.7,"r":-0.02},{"p":"o","t":3.7,"r":-0.07},
{"p":"o","t":4.7,"r":0.12},{"p":"o","t":4.7,"r":0.06},{"p":"o","t":4.7,"r":0.0},{"p":"o","t":4.7,"r":-0.08},
{"p":"o","t":6.0,"r":0.1},{"p":"o","t":6.0,"r":0.04},{"p":"o","t":6.0,"r":-0.03},{"p":"o","t":6.0,"r":-0.11},
{"p":"o","t":6.9,"r":0.01},{"p":"o","t":6.9,"r":-0.05},{"p":"o","t":6.9,"r":-0.15},
{"p":"o","t":8.3,"r":0.09},{"p":"o","t":8.3,"r":0.03},{"p":"o","t":8.3,"r":-0.04},{"p":"o","t":8.3,"r":-0.11},
{"p":"o","t":9.1,"r":0.05},{"p":"o","t":9.1,"r":0.0},{"p":"o","t":9.1,"r":-0.06},
{"p":"o","t":10.2,"r":0.05},{"p":"o","t":10.2,"r":-0.01},{"p":"o","t":10.2,"r":-0.09},
{"p":"o","t":11.1,"r":0.05},{"p":"o","t":11.1,"r":0.0},{"p":"o","t":11.1,"r":-0.06},
{"p":"o","t":12.3,"r":0.07},{"p":"o","t":12.3,"r":0.0},{"p":"o","t":12.3,"r":-0.06},{"p":"o","t":12.3,"r":-0.11},
{"p":"o","t":13.7,"r":0.05},{"p":"o","t":13.7,"r":-0.01},{"p":"o","t":13.7,"r":-0.06},
{"p":"o","t":15.7,"r":0.03},{"p":"o","t":15.7,"r":-0.04},
{"p":"o","t":16.9,"r":0.03},{"p":"o","t":16.9,"r":-0.04},
{"p":"o","t":18.2,"r":0.03},{"p":"o","t":18.2,"r":-0.02},{"p":"o","t":18.2,"r":-0.06},
{"p":"o","t":19.5,"r":0.07},{"p":"o","t":19.5,"r":0.01},{"p":"o","t":19.5,"r":-0.05},{"p":"o","t":19.5,"r":-0.08},
{"p":"o","t":21.1,"r":0.03},{"p":"o","t":21.1,"r":-0.02},{"p":"o","t":21.1,"r":-0.06},
{"p":"o","t":22.4,"r":0.05},{"p":"o","t":22.4,"r":-0.01},{"p":"o","t":22.4,"r":-0.08},
{"p":"o","t":23.7,"r":0.05},{"p":"o","t":23.7,"r":-0.01},{"p":"o","t":23.7,"r":-0.06},
{"p":"o","t":24.9,"r":0.05},{"p":"o","t":24.9,"r":-0.01},{"p":"o","t":24.9,"r":-0.06},
{"p":"o","t":26.0,"r":0.03},{"p":"o","t":26.0,"r":-0.02},{"p":"o","t":26.0,"r":-0.06},
{"p":"o","t":27.4,"r":0.05},{"p":"o","t":27.4,"r":-0.01},{"p":"o","t":27.4,"r":-0.06},
{"p":"o","t":28.2,"r":0.12},{"p":"o","t":28.2,"r":0.05},{"p":"o","t":28.2,"r":-0.02},{"p":"o","t":28.2,"r":-0.11},
{"p":"o","t":29.1,"r":0.12},{"p":"o","t":29.1,"r":0.05},{"p":"o","t":29.1,"r":-0.04},
{"p":"o","t":30.6,"r":0.1},{"p":"o","t":30.6,"r":0.05},{"p":"o","t":30.6,"r":0.01},
{"p":"o","t":31.4,"r":0.14},{"p":"o","t":31.4,"r":0.08},{"p":"o","t":31.4,"r":0.02},{"p":"o","t":31.4,"r":-0.01},
{"p":"o","t":32.5,"r":0.14},{"p":"o","t":32.5,"r":0.08},{"p":"o","t":32.5,"r":0.01},
{"p":"o","t":33.8,"r":0.1},{"p":"o","t":33.8,"r":0.05},{"p":"o","t":33.8,"r":0.01},
{"p":"o","t":35.0,"r":0.12},{"p":"o","t":35.0,"r":0.06},{"p":"o","t":35.0,"r":0.01},
{"p":"o","t":42.4,"r":0.07},{"p":"o","t":42.4,"r":0.0},
{"p":"o","t":43.8,"r":0.09},{"p":"o","t":43.8,"r":0.03},{"p":"o","t":43.8,"r":0.0},
{"p":"o","t":45.3,"r":0.09},{"p":"o","t":45.3,"r":0.03},{"p":"o","t":45.3,"r":-0.04},
{"p":"o","t":46.4,"r":0.17},{"p":"o","t":46.4,"r":0.1},{"p":"o","t":46.4,"r":0.03},{"p":"o","t":46.4,"r":-0.04},
{"p":"o","t":47.8,"r":0.09},{"p":"o","t":47.8,"r":0.03},{"p":"o","t":47.8,"r":-0.04},
{"p":"o","t":49.1,"r":0.19},{"p":"o","t":49.1,"r":0.09},{"p":"o","t":49.1,"r":0.03},{"p":"o","t":49.1,"r":-0.05},
{"p":"p","t":1.3,"r":0.14},{"p":"p","t":1.3,"r":0.07},{"p":"p","t":1.3,"r":0.0},{"p":"p","t":1.3,"r":-0.07},{"p":"p","t":1.3,"r":-0.17},
{"p":"p","t":2.3,"r":0.21},{"p":"p","t":2.3,"r":0.13},{"p":"p","t":2.3,"r":0.05},{"p":"p","t":2.3,"r":-0.04},
{"p":"p","t":3.1,"r":0.14},{"p":"p","t":3.1,"r":0.07},{"p":"p","t":3.1,"r":0.0},{"p":"p","t":3.1,"r":-0.04},
{"p":"p","t":3.8,"r":0.16},{"p":"p","t":3.8,"r":0.09},{"p":"p","t":3.8,"r":0.02},{"p":"p","t":3.8,"r":-0.04},
{"p":"p","t":4.6,"r":0.14},{"p":"p","t":4.6,"r":0.08},{"p":"p","t":4.6,"r":0.02},{"p":"p","t":4.6,"r":-0.04},
{"p":"p","t":5.3,"r":0.1},{"p":"p","t":5.3,"r":0.04},{"p":"p","t":5.3,"r":-0.04},
{"p":"p","t":6.3,"r":0.09},{"p":"p","t":6.3,"r":0.03},{"p":"p","t":6.3,"r":-0.03},{"p":"p","t":6.3,"r":-0.08},
{"p":"p","t":7.3,"r":0.05},{"p":"p","t":7.3,"r":-0.02},{"p":"p","t":7.3,"r":-0.1},{"p":"p","t":7.3,"r":-0.18},
{"p":"p","t":8.4,"r":0.07},{"p":"p","t":8.4,"r":0.0},{"p":"p","t":8.4,"r":-0.09},
{"p":"p","t":9.2,"r":0.01},{"p":"p","t":9.2,"r":-0.06},{"p":"p","t":9.2,"r":-0.15},
{"p":"p","t":10.3,"r":0.07},{"p":"p","t":10.3,"r":0.0},{"p":"p","t":10.3,"r":-0.07},{"p":"p","t":10.3,"r":-0.15},
{"p":"p","t":11.5,"r":0.07},{"p":"p","t":11.5,"r":0.0},{"p":"p","t":11.5,"r":-0.07},{"p":"p","t":11.5,"r":-0.11},
{"p":"p","t":12.4,"r":0.07},{"p":"p","t":12.4,"r":0.0},{"p":"p","t":12.4,"r":-0.06},{"p":"p","t":12.4,"r":-0.11},
{"p":"p","t":13.7,"r":0.03},{"p":"p","t":13.7,"r":-0.03},{"p":"p","t":13.7,"r":-0.11},
{"p":"p","t":15.6,"r":-0.08},{"p":"p","t":15.6,"r":-0.15},
{"p":"p","t":16.8,"r":-0.06},
{"p":"p","t":18.3,"r":0.0},{"p":"p","t":18.3,"r":-0.05},{"p":"p","t":18.3,"r":-0.09},
{"p":"p","t":19.5,"r":0.03},{"p":"p","t":19.5,"r":-0.04},{"p":"p","t":19.5,"r":-0.09},{"p":"p","t":19.5,"r":-0.15},
{"p":"p","t":21.1,"r":-0.02},{"p":"p","t":21.1,"r":-0.08},{"p":"p","t":21.1,"r":-0.11},
{"p":"p","t":22.5,"r":0.01},{"p":"p","t":22.5,"r":-0.05},{"p":"p","t":22.5,"r":-0.11},
{"p":"p","t":23.7,"r":0.03},{"p":"p","t":23.7,"r":-0.03},{"p":"p","t":23.7,"r":-0.09},
{"p":"p","t":25.0,"r":0.05},{"p":"p","t":25.0,"r":-0.01},{"p":"p","t":25.0,"r":-0.08},
{"p":"p","t":26.2,"r":0.07},{"p":"p","t":26.2,"r":0.01},{"p":"p","t":26.2,"r":-0.04},
{"p":"p","t":27.1,"r":0.09},{"p":"p","t":27.1,"r":0.04},{"p":"p","t":27.1,"r":0.0},
{"p":"p","t":28.2,"r":0.1},{"p":"p","t":28.2,"r":0.04},{"p":"p","t":28.2,"r":0.0},
{"p":"p","t":29.4,"r":0.12},{"p":"p","t":29.4,"r":0.06},{"p":"p","t":29.4,"r":0.0},
{"p":"p","t":30.7,"r":0.14},{"p":"p","t":30.7,"r":0.08},{"p":"p","t":30.7,"r":0.03},
{"p":"p","t":31.9,"r":0.16},{"p":"p","t":31.9,"r":0.09},{"p":"p","t":31.9,"r":0.03},
{"p":"p","t":34.0,"r":0.12},{"p":"p","t":34.0,"r":0.07},{"p":"p","t":34.0,"r":0.05},
{"p":"p","t":35.3,"r":0.16},{"p":"p","t":35.3,"r":0.09},{"p":"p","t":35.3,"r":0.03},
{"p":"p","t":40.3,"r":0.14},
{"p":"p","t":42.7,"r":0.14},{"p":"p","t":42.7,"r":0.09},
{"p":"p","t":43.9,"r":0.09},
{"p":"p","t":45.2,"r":0.18},{"p":"p","t":45.2,"r":0.11},{"p":"p","t":45.2,"r":0.03},
{"p":"p","t":46.4,"r":0.14},{"p":"p","t":46.4,"r":0.07},{"p":"p","t":46.4,"r":0.0},
{"p":"p","t":47.9,"r":0.1},{"p":"p","t":47.9,"r":0.03},{"p":"p","t":47.9,"r":0.0},
{"p":"p","t":49.1,"r":0.12},{"p":"p","t":49.1,"r":0.06},{"p":"p","t":49.1,"r":0.01}
]},
"facet":{"field":"p","type":"nominal","header":{"title":null,"labelOrient":"top","labelAnchor":"start","labelAlign":"left","labelFont":"Liberation Sans","labelFontSize":22,"labelColor":"#1a1a1a","labelPadding":9,
"labelExpr":"'(' + datum.value + ') ' + ['15','15','20','20','25','25','28','28','30','30','33','33','35','35','37','37'][indexof('abcdefghijklmnop', datum.value)] + ' ºC'"}},
"columns":2,
"spacing":{"row":25.5,"column":11},
"spec":{
"width":465,"height":118,
"layer":[
{"mark":{"type":"circle","size":80,"opacity":0.5},
"encoding":{
"x":{"field":"t","type":"quantitative","scale":{"domain":[-1.49,51.7],"nice":false,"zero":false},
"axis":{"title":null,"values":[0,5,10,15,20,25,30,35,40,45,50],"tickCount":30,"domain":false,"labelFlush":false,"labelOverlap":false,
"labelExpr":"datum.value % 10 == 0 ? datum.label : ''","labelFont":"Liberation Sans","labelFontSize":22,"labelColor":"#4D4D4D","labelPadding":6,
"tickColor":"#333333","tickSize":6.5,"tickWidth":1.1,"tickOpacity":{"condition":{"test":"datum.value % 10 == 0","value":1},"value":0},
"gridColor":"#EBEBEB","gridWidth":{"condition":{"test":"datum.value % 10 == 0","value":1.6},"value":0.8}}},
"y":{"field":"r","type":"quantitative","scale":{"domain":[-0.68,0.62],"nice":false,"zero":false},
"axis":{"title":null,"values":[-0.6,-0.45,-0.3,-0.15,0,0.15,0.3,0.45,0.6],"tickCount":30,"format":".1f","domain":false,"labelFlush":false,"labelOverlap":false,
"labelExpr":"abs(datum.value) < 0.01 || abs(abs(datum.value) - 0.3) < 0.01 || abs(abs(datum.value) - 0.6) < 0.01 ? datum.label : ''","labelFont":"Liberation Sans","labelFontSize":22,"labelColor":"#4D4D4D","labelPadding":8,
"tickColor":"#333333","tickSize":6.5,"tickWidth":1.1,"tickOpacity":{"condition":{"test":"abs(datum.value) < 0.01 || abs(abs(datum.value) - 0.3) < 0.01 || abs(abs(datum.value) - 0.6) < 0.01","value":1},"value":0},
"gridColor":"#EBEBEB","gridWidth":{"condition":{"test":"abs(datum.value) < 0.01 || abs(abs(datum.value) - 0.3) < 0.01 || abs(abs(datum.value) - 0.6) < 0.01","value":1.6},"value":0.8}}},
"color":{"condition":{"test":"indexof('acegikmo', datum.p) >= 0","value":"#0000FF"},"value":"#000000"}
}},
{"transform":[{"aggregate":[{"op":"count","as":"n"}],"groupby":["p"]}],
"mark":{"type":"rule","color":"black","strokeWidth":1.4},
"encoding":{"y":{"datum":0}}},
{"transform":[{"aggregate":[{"op":"count","as":"n"}],"groupby":["p"]}],
"mark":{"type":"rule","color":"black","strokeWidth":1.2,"strokeDash":[5,4]},
"encoding":{"x":{"datum":7}}}
]}
}]
}
